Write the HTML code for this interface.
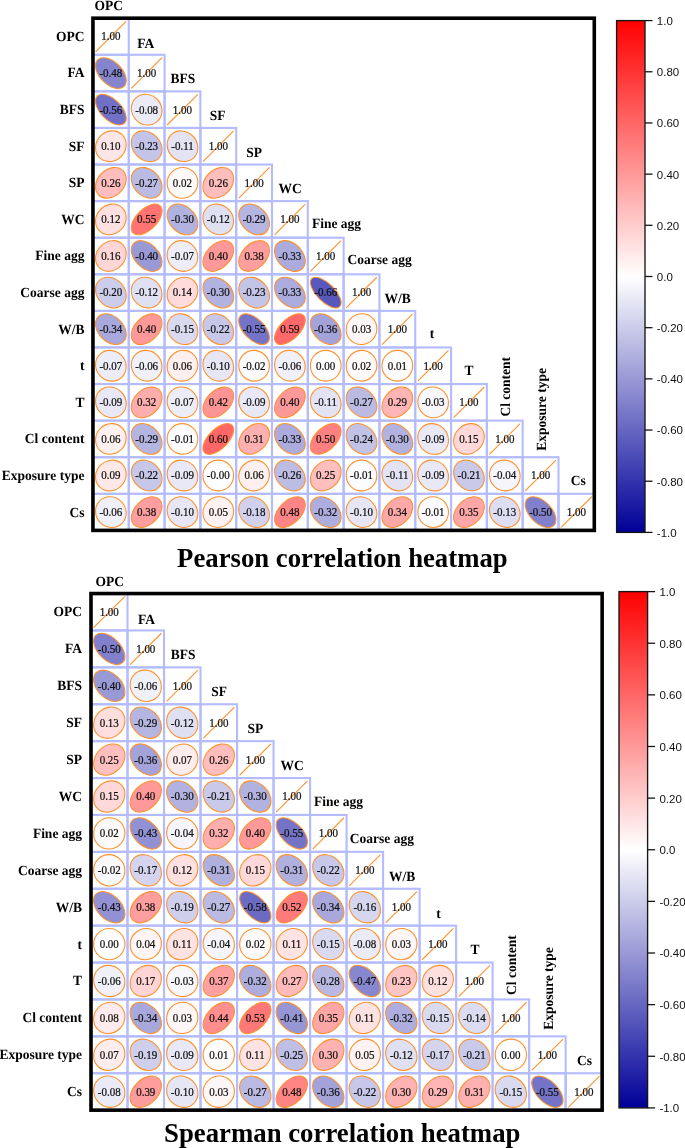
<!DOCTYPE html>
<html><head><meta charset="utf-8"><style>
html,body{margin:0;padding:0;background:#fff;}
svg{display:block;will-change:transform;}
.num{font-family:"Liberation Serif",serif;font-size:12.3px;fill:#111;stroke:#111;stroke-width:0.25px;text-anchor:middle;}
.lab{text-rendering:geometricPrecision;font-family:"Liberation Serif",serif;font-size:14px;font-weight:bold;fill:#000;}
.cbl{font-family:"Liberation Sans",sans-serif;font-size:11.5px;fill:#111;}
.title{font-family:"Liberation Serif",serif;font-size:27px;font-weight:bold;fill:#000;}
</style></head><body>
<svg width="685" height="1148" viewBox="0 0 685 1148">
<defs><linearGradient id="gp" x1="0" y1="0" x2="0" y2="1">
<stop offset="0" stop-color="rgb(255,0,0)"/>
<stop offset="0.5" stop-color="rgb(255,255,255)"/>
<stop offset="1" stop-color="rgb(0,0,153)"/>
</linearGradient><linearGradient id="gs" x1="0" y1="0" x2="0" y2="1">
<stop offset="0" stop-color="rgb(255,0,0)"/>
<stop offset="0.5" stop-color="rgb(255,255,255)"/>
<stop offset="1" stop-color="rgb(0,0,153)"/>
</linearGradient></defs>
<rect width="685" height="1148" fill="#fff"/>
<rect x="92.95" y="18.20" width="35.81" height="36.59" fill="none" stroke="#b4bcff" stroke-width="2.1"/>
<rect x="92.95" y="54.78" width="35.81" height="36.59" fill="none" stroke="#b4bcff" stroke-width="2.1"/>
<rect x="128.76" y="54.78" width="35.81" height="36.59" fill="none" stroke="#b4bcff" stroke-width="2.1"/>
<rect x="92.95" y="91.37" width="35.81" height="36.59" fill="none" stroke="#b4bcff" stroke-width="2.1"/>
<rect x="128.76" y="91.37" width="35.81" height="36.59" fill="none" stroke="#b4bcff" stroke-width="2.1"/>
<rect x="164.57" y="91.37" width="35.81" height="36.59" fill="none" stroke="#b4bcff" stroke-width="2.1"/>
<rect x="92.95" y="127.95" width="35.81" height="36.59" fill="none" stroke="#b4bcff" stroke-width="2.1"/>
<rect x="128.76" y="127.95" width="35.81" height="36.59" fill="none" stroke="#b4bcff" stroke-width="2.1"/>
<rect x="164.57" y="127.95" width="35.81" height="36.59" fill="none" stroke="#b4bcff" stroke-width="2.1"/>
<rect x="200.38" y="127.95" width="35.81" height="36.59" fill="none" stroke="#b4bcff" stroke-width="2.1"/>
<rect x="92.95" y="164.54" width="35.81" height="36.59" fill="none" stroke="#b4bcff" stroke-width="2.1"/>
<rect x="128.76" y="164.54" width="35.81" height="36.59" fill="none" stroke="#b4bcff" stroke-width="2.1"/>
<rect x="164.57" y="164.54" width="35.81" height="36.59" fill="none" stroke="#b4bcff" stroke-width="2.1"/>
<rect x="200.38" y="164.54" width="35.81" height="36.59" fill="none" stroke="#b4bcff" stroke-width="2.1"/>
<rect x="236.19" y="164.54" width="35.81" height="36.59" fill="none" stroke="#b4bcff" stroke-width="2.1"/>
<rect x="92.95" y="201.12" width="35.81" height="36.59" fill="none" stroke="#b4bcff" stroke-width="2.1"/>
<rect x="128.76" y="201.12" width="35.81" height="36.59" fill="none" stroke="#b4bcff" stroke-width="2.1"/>
<rect x="164.57" y="201.12" width="35.81" height="36.59" fill="none" stroke="#b4bcff" stroke-width="2.1"/>
<rect x="200.38" y="201.12" width="35.81" height="36.59" fill="none" stroke="#b4bcff" stroke-width="2.1"/>
<rect x="236.19" y="201.12" width="35.81" height="36.59" fill="none" stroke="#b4bcff" stroke-width="2.1"/>
<rect x="272.00" y="201.12" width="35.81" height="36.59" fill="none" stroke="#b4bcff" stroke-width="2.1"/>
<rect x="92.95" y="237.71" width="35.81" height="36.59" fill="none" stroke="#b4bcff" stroke-width="2.1"/>
<rect x="128.76" y="237.71" width="35.81" height="36.59" fill="none" stroke="#b4bcff" stroke-width="2.1"/>
<rect x="164.57" y="237.71" width="35.81" height="36.59" fill="none" stroke="#b4bcff" stroke-width="2.1"/>
<rect x="200.38" y="237.71" width="35.81" height="36.59" fill="none" stroke="#b4bcff" stroke-width="2.1"/>
<rect x="236.19" y="237.71" width="35.81" height="36.59" fill="none" stroke="#b4bcff" stroke-width="2.1"/>
<rect x="272.00" y="237.71" width="35.81" height="36.59" fill="none" stroke="#b4bcff" stroke-width="2.1"/>
<rect x="307.81" y="237.71" width="35.81" height="36.59" fill="none" stroke="#b4bcff" stroke-width="2.1"/>
<rect x="92.95" y="274.30" width="35.81" height="36.59" fill="none" stroke="#b4bcff" stroke-width="2.1"/>
<rect x="128.76" y="274.30" width="35.81" height="36.59" fill="none" stroke="#b4bcff" stroke-width="2.1"/>
<rect x="164.57" y="274.30" width="35.81" height="36.59" fill="none" stroke="#b4bcff" stroke-width="2.1"/>
<rect x="200.38" y="274.30" width="35.81" height="36.59" fill="none" stroke="#b4bcff" stroke-width="2.1"/>
<rect x="236.19" y="274.30" width="35.81" height="36.59" fill="none" stroke="#b4bcff" stroke-width="2.1"/>
<rect x="272.00" y="274.30" width="35.81" height="36.59" fill="none" stroke="#b4bcff" stroke-width="2.1"/>
<rect x="307.81" y="274.30" width="35.81" height="36.59" fill="none" stroke="#b4bcff" stroke-width="2.1"/>
<rect x="343.62" y="274.30" width="35.81" height="36.59" fill="none" stroke="#b4bcff" stroke-width="2.1"/>
<rect x="92.95" y="310.88" width="35.81" height="36.59" fill="none" stroke="#b4bcff" stroke-width="2.1"/>
<rect x="128.76" y="310.88" width="35.81" height="36.59" fill="none" stroke="#b4bcff" stroke-width="2.1"/>
<rect x="164.57" y="310.88" width="35.81" height="36.59" fill="none" stroke="#b4bcff" stroke-width="2.1"/>
<rect x="200.38" y="310.88" width="35.81" height="36.59" fill="none" stroke="#b4bcff" stroke-width="2.1"/>
<rect x="236.19" y="310.88" width="35.81" height="36.59" fill="none" stroke="#b4bcff" stroke-width="2.1"/>
<rect x="272.00" y="310.88" width="35.81" height="36.59" fill="none" stroke="#b4bcff" stroke-width="2.1"/>
<rect x="307.81" y="310.88" width="35.81" height="36.59" fill="none" stroke="#b4bcff" stroke-width="2.1"/>
<rect x="343.62" y="310.88" width="35.81" height="36.59" fill="none" stroke="#b4bcff" stroke-width="2.1"/>
<rect x="379.43" y="310.88" width="35.81" height="36.59" fill="none" stroke="#b4bcff" stroke-width="2.1"/>
<rect x="92.95" y="347.46" width="35.81" height="36.59" fill="none" stroke="#b4bcff" stroke-width="2.1"/>
<rect x="128.76" y="347.46" width="35.81" height="36.59" fill="none" stroke="#b4bcff" stroke-width="2.1"/>
<rect x="164.57" y="347.46" width="35.81" height="36.59" fill="none" stroke="#b4bcff" stroke-width="2.1"/>
<rect x="200.38" y="347.46" width="35.81" height="36.59" fill="none" stroke="#b4bcff" stroke-width="2.1"/>
<rect x="236.19" y="347.46" width="35.81" height="36.59" fill="none" stroke="#b4bcff" stroke-width="2.1"/>
<rect x="272.00" y="347.46" width="35.81" height="36.59" fill="none" stroke="#b4bcff" stroke-width="2.1"/>
<rect x="307.81" y="347.46" width="35.81" height="36.59" fill="none" stroke="#b4bcff" stroke-width="2.1"/>
<rect x="343.62" y="347.46" width="35.81" height="36.59" fill="none" stroke="#b4bcff" stroke-width="2.1"/>
<rect x="379.43" y="347.46" width="35.81" height="36.59" fill="none" stroke="#b4bcff" stroke-width="2.1"/>
<rect x="415.24" y="347.46" width="35.81" height="36.59" fill="none" stroke="#b4bcff" stroke-width="2.1"/>
<rect x="92.95" y="384.05" width="35.81" height="36.59" fill="none" stroke="#b4bcff" stroke-width="2.1"/>
<rect x="128.76" y="384.05" width="35.81" height="36.59" fill="none" stroke="#b4bcff" stroke-width="2.1"/>
<rect x="164.57" y="384.05" width="35.81" height="36.59" fill="none" stroke="#b4bcff" stroke-width="2.1"/>
<rect x="200.38" y="384.05" width="35.81" height="36.59" fill="none" stroke="#b4bcff" stroke-width="2.1"/>
<rect x="236.19" y="384.05" width="35.81" height="36.59" fill="none" stroke="#b4bcff" stroke-width="2.1"/>
<rect x="272.00" y="384.05" width="35.81" height="36.59" fill="none" stroke="#b4bcff" stroke-width="2.1"/>
<rect x="307.81" y="384.05" width="35.81" height="36.59" fill="none" stroke="#b4bcff" stroke-width="2.1"/>
<rect x="343.62" y="384.05" width="35.81" height="36.59" fill="none" stroke="#b4bcff" stroke-width="2.1"/>
<rect x="379.43" y="384.05" width="35.81" height="36.59" fill="none" stroke="#b4bcff" stroke-width="2.1"/>
<rect x="415.24" y="384.05" width="35.81" height="36.59" fill="none" stroke="#b4bcff" stroke-width="2.1"/>
<rect x="451.05" y="384.05" width="35.81" height="36.59" fill="none" stroke="#b4bcff" stroke-width="2.1"/>
<rect x="92.95" y="420.63" width="35.81" height="36.59" fill="none" stroke="#b4bcff" stroke-width="2.1"/>
<rect x="128.76" y="420.63" width="35.81" height="36.59" fill="none" stroke="#b4bcff" stroke-width="2.1"/>
<rect x="164.57" y="420.63" width="35.81" height="36.59" fill="none" stroke="#b4bcff" stroke-width="2.1"/>
<rect x="200.38" y="420.63" width="35.81" height="36.59" fill="none" stroke="#b4bcff" stroke-width="2.1"/>
<rect x="236.19" y="420.63" width="35.81" height="36.59" fill="none" stroke="#b4bcff" stroke-width="2.1"/>
<rect x="272.00" y="420.63" width="35.81" height="36.59" fill="none" stroke="#b4bcff" stroke-width="2.1"/>
<rect x="307.81" y="420.63" width="35.81" height="36.59" fill="none" stroke="#b4bcff" stroke-width="2.1"/>
<rect x="343.62" y="420.63" width="35.81" height="36.59" fill="none" stroke="#b4bcff" stroke-width="2.1"/>
<rect x="379.43" y="420.63" width="35.81" height="36.59" fill="none" stroke="#b4bcff" stroke-width="2.1"/>
<rect x="415.24" y="420.63" width="35.81" height="36.59" fill="none" stroke="#b4bcff" stroke-width="2.1"/>
<rect x="451.05" y="420.63" width="35.81" height="36.59" fill="none" stroke="#b4bcff" stroke-width="2.1"/>
<rect x="486.86" y="420.63" width="35.81" height="36.59" fill="none" stroke="#b4bcff" stroke-width="2.1"/>
<rect x="92.95" y="457.22" width="35.81" height="36.59" fill="none" stroke="#b4bcff" stroke-width="2.1"/>
<rect x="128.76" y="457.22" width="35.81" height="36.59" fill="none" stroke="#b4bcff" stroke-width="2.1"/>
<rect x="164.57" y="457.22" width="35.81" height="36.59" fill="none" stroke="#b4bcff" stroke-width="2.1"/>
<rect x="200.38" y="457.22" width="35.81" height="36.59" fill="none" stroke="#b4bcff" stroke-width="2.1"/>
<rect x="236.19" y="457.22" width="35.81" height="36.59" fill="none" stroke="#b4bcff" stroke-width="2.1"/>
<rect x="272.00" y="457.22" width="35.81" height="36.59" fill="none" stroke="#b4bcff" stroke-width="2.1"/>
<rect x="307.81" y="457.22" width="35.81" height="36.59" fill="none" stroke="#b4bcff" stroke-width="2.1"/>
<rect x="343.62" y="457.22" width="35.81" height="36.59" fill="none" stroke="#b4bcff" stroke-width="2.1"/>
<rect x="379.43" y="457.22" width="35.81" height="36.59" fill="none" stroke="#b4bcff" stroke-width="2.1"/>
<rect x="415.24" y="457.22" width="35.81" height="36.59" fill="none" stroke="#b4bcff" stroke-width="2.1"/>
<rect x="451.05" y="457.22" width="35.81" height="36.59" fill="none" stroke="#b4bcff" stroke-width="2.1"/>
<rect x="486.86" y="457.22" width="35.81" height="36.59" fill="none" stroke="#b4bcff" stroke-width="2.1"/>
<rect x="522.67" y="457.22" width="35.81" height="36.59" fill="none" stroke="#b4bcff" stroke-width="2.1"/>
<rect x="92.95" y="493.81" width="35.81" height="36.59" fill="none" stroke="#b4bcff" stroke-width="2.1"/>
<rect x="128.76" y="493.81" width="35.81" height="36.59" fill="none" stroke="#b4bcff" stroke-width="2.1"/>
<rect x="164.57" y="493.81" width="35.81" height="36.59" fill="none" stroke="#b4bcff" stroke-width="2.1"/>
<rect x="200.38" y="493.81" width="35.81" height="36.59" fill="none" stroke="#b4bcff" stroke-width="2.1"/>
<rect x="236.19" y="493.81" width="35.81" height="36.59" fill="none" stroke="#b4bcff" stroke-width="2.1"/>
<rect x="272.00" y="493.81" width="35.81" height="36.59" fill="none" stroke="#b4bcff" stroke-width="2.1"/>
<rect x="307.81" y="493.81" width="35.81" height="36.59" fill="none" stroke="#b4bcff" stroke-width="2.1"/>
<rect x="343.62" y="493.81" width="35.81" height="36.59" fill="none" stroke="#b4bcff" stroke-width="2.1"/>
<rect x="379.43" y="493.81" width="35.81" height="36.59" fill="none" stroke="#b4bcff" stroke-width="2.1"/>
<rect x="415.24" y="493.81" width="35.81" height="36.59" fill="none" stroke="#b4bcff" stroke-width="2.1"/>
<rect x="451.05" y="493.81" width="35.81" height="36.59" fill="none" stroke="#b4bcff" stroke-width="2.1"/>
<rect x="486.86" y="493.81" width="35.81" height="36.59" fill="none" stroke="#b4bcff" stroke-width="2.1"/>
<rect x="522.67" y="493.81" width="35.81" height="36.59" fill="none" stroke="#b4bcff" stroke-width="2.1"/>
<rect x="558.48" y="493.81" width="35.81" height="36.59" fill="none" stroke="#b4bcff" stroke-width="2.1"/>
<line x1="95.51" y1="51.84" x2="126.20" y2="21.14" stroke="#fd9230" stroke-width="1.1"/>
<ellipse cx="110.86" cy="73.08" rx="18.67" ry="11.07" transform="rotate(45 110.86 73.08)" fill="rgb(133,133,206)" stroke="#fd9230" stroke-width="1.1"/>
<line x1="131.32" y1="88.43" x2="162.02" y2="57.73" stroke="#fd9230" stroke-width="1.1"/>
<ellipse cx="110.86" cy="109.66" rx="19.17" ry="10.18" transform="rotate(45 110.86 109.66)" fill="rgb(112,112,198)" stroke="#fd9230" stroke-width="1.1"/>
<ellipse cx="146.67" cy="109.66" rx="15.95" ry="14.72" transform="rotate(45 146.67 109.66)" fill="rgb(235,235,247)" stroke="#fd9230" stroke-width="1.1"/>
<line x1="167.13" y1="125.01" x2="197.83" y2="94.31" stroke="#fd9230" stroke-width="1.1"/>
<ellipse cx="110.86" cy="146.25" rx="16.10" ry="14.56" transform="rotate(-45 110.86 146.25)" fill="rgb(255,230,230)" stroke="#fd9230" stroke-width="1.1"/>
<ellipse cx="146.67" cy="146.25" rx="17.02" ry="13.47" transform="rotate(45 146.67 146.25)" fill="rgb(196,196,232)" stroke="#fd9230" stroke-width="1.1"/>
<ellipse cx="182.48" cy="146.25" rx="16.17" ry="14.48" transform="rotate(45 182.48 146.25)" fill="rgb(227,227,244)" stroke="#fd9230" stroke-width="1.1"/>
<line x1="202.94" y1="161.60" x2="233.64" y2="130.90" stroke="#fd9230" stroke-width="1.1"/>
<ellipse cx="110.86" cy="182.83" rx="17.23" ry="13.20" transform="rotate(-45 110.86 182.83)" fill="rgb(255,189,189)" stroke="#fd9230" stroke-width="1.1"/>
<ellipse cx="146.67" cy="182.83" rx="17.30" ry="13.12" transform="rotate(45 146.67 182.83)" fill="rgb(186,186,227)" stroke="#fd9230" stroke-width="1.1"/>
<ellipse cx="182.48" cy="182.83" rx="15.50" ry="15.20" transform="rotate(-45 182.48 182.83)" fill="rgb(255,250,250)" stroke="#fd9230" stroke-width="1.1"/>
<ellipse cx="218.29" cy="182.83" rx="17.23" ry="13.20" transform="rotate(-45 218.29 182.83)" fill="rgb(255,189,189)" stroke="#fd9230" stroke-width="1.1"/>
<line x1="238.75" y1="198.18" x2="269.45" y2="167.48" stroke="#fd9230" stroke-width="1.1"/>
<ellipse cx="110.86" cy="219.42" rx="16.24" ry="14.40" transform="rotate(-45 110.86 219.42)" fill="rgb(255,224,224)" stroke="#fd9230" stroke-width="1.1"/>
<ellipse cx="146.67" cy="219.42" rx="19.11" ry="10.30" transform="rotate(-45 146.67 219.42)" fill="rgb(255,115,115)" stroke="#fd9230" stroke-width="1.1"/>
<ellipse cx="182.48" cy="219.42" rx="17.50" ry="12.84" transform="rotate(45 182.48 219.42)" fill="rgb(178,178,224)" stroke="#fd9230" stroke-width="1.1"/>
<ellipse cx="218.29" cy="219.42" rx="16.24" ry="14.40" transform="rotate(45 218.29 219.42)" fill="rgb(224,224,243)" stroke="#fd9230" stroke-width="1.1"/>
<ellipse cx="254.10" cy="219.42" rx="17.43" ry="12.93" transform="rotate(45 254.10 219.42)" fill="rgb(181,181,225)" stroke="#fd9230" stroke-width="1.1"/>
<line x1="274.56" y1="234.77" x2="305.26" y2="204.07" stroke="#fd9230" stroke-width="1.1"/>
<ellipse cx="110.86" cy="256.00" rx="16.53" ry="14.07" transform="rotate(-45 110.86 256.00)" fill="rgb(255,214,214)" stroke="#fd9230" stroke-width="1.1"/>
<ellipse cx="146.67" cy="256.00" rx="18.16" ry="11.89" transform="rotate(45 146.67 256.00)" fill="rgb(153,153,214)" stroke="#fd9230" stroke-width="1.1"/>
<ellipse cx="182.48" cy="256.00" rx="15.88" ry="14.80" transform="rotate(45 182.48 256.00)" fill="rgb(237,237,248)" stroke="#fd9230" stroke-width="1.1"/>
<ellipse cx="218.29" cy="256.00" rx="18.16" ry="11.89" transform="rotate(-45 218.29 256.00)" fill="rgb(255,153,153)" stroke="#fd9230" stroke-width="1.1"/>
<ellipse cx="254.10" cy="256.00" rx="18.03" ry="12.09" transform="rotate(-45 254.10 256.00)" fill="rgb(255,158,158)" stroke="#fd9230" stroke-width="1.1"/>
<ellipse cx="289.91" cy="256.00" rx="17.70" ry="12.56" transform="rotate(45 289.91 256.00)" fill="rgb(171,171,221)" stroke="#fd9230" stroke-width="1.1"/>
<line x1="310.37" y1="271.35" x2="341.07" y2="240.65" stroke="#fd9230" stroke-width="1.1"/>
<ellipse cx="110.86" cy="292.59" rx="16.82" ry="13.73" transform="rotate(45 110.86 292.59)" fill="rgb(204,204,235)" stroke="#fd9230" stroke-width="1.1"/>
<ellipse cx="146.67" cy="292.59" rx="16.24" ry="14.40" transform="rotate(45 146.67 292.59)" fill="rgb(224,224,243)" stroke="#fd9230" stroke-width="1.1"/>
<ellipse cx="182.48" cy="292.59" rx="16.39" ry="14.24" transform="rotate(-45 182.48 292.59)" fill="rgb(255,219,219)" stroke="#fd9230" stroke-width="1.1"/>
<ellipse cx="218.29" cy="292.59" rx="17.50" ry="12.84" transform="rotate(45 218.29 292.59)" fill="rgb(178,178,224)" stroke="#fd9230" stroke-width="1.1"/>
<ellipse cx="254.10" cy="292.59" rx="17.02" ry="13.47" transform="rotate(45 254.10 292.59)" fill="rgb(196,196,232)" stroke="#fd9230" stroke-width="1.1"/>
<ellipse cx="289.91" cy="292.59" rx="17.70" ry="12.56" transform="rotate(45 289.91 292.59)" fill="rgb(171,171,221)" stroke="#fd9230" stroke-width="1.1"/>
<ellipse cx="325.72" cy="292.59" rx="19.78" ry="8.95" transform="rotate(45 325.72 292.59)" fill="rgb(87,87,188)" stroke="#fd9230" stroke-width="1.1"/>
<line x1="346.18" y1="307.94" x2="376.88" y2="277.24" stroke="#fd9230" stroke-width="1.1"/>
<ellipse cx="110.86" cy="329.17" rx="17.77" ry="12.47" transform="rotate(45 110.86 329.17)" fill="rgb(168,168,220)" stroke="#fd9230" stroke-width="1.1"/>
<ellipse cx="146.67" cy="329.17" rx="18.16" ry="11.89" transform="rotate(-45 146.67 329.17)" fill="rgb(255,153,153)" stroke="#fd9230" stroke-width="1.1"/>
<ellipse cx="182.48" cy="329.17" rx="16.46" ry="14.15" transform="rotate(45 182.48 329.17)" fill="rgb(217,217,240)" stroke="#fd9230" stroke-width="1.1"/>
<ellipse cx="218.29" cy="329.17" rx="16.95" ry="13.56" transform="rotate(45 218.29 329.17)" fill="rgb(199,199,233)" stroke="#fd9230" stroke-width="1.1"/>
<ellipse cx="254.10" cy="329.17" rx="19.11" ry="10.30" transform="rotate(45 254.10 329.17)" fill="rgb(115,115,199)" stroke="#fd9230" stroke-width="1.1"/>
<ellipse cx="289.91" cy="329.17" rx="19.36" ry="9.83" transform="rotate(-45 289.91 329.17)" fill="rgb(255,105,105)" stroke="#fd9230" stroke-width="1.1"/>
<ellipse cx="325.72" cy="329.17" rx="17.90" ry="12.28" transform="rotate(45 325.72 329.17)" fill="rgb(163,163,218)" stroke="#fd9230" stroke-width="1.1"/>
<ellipse cx="361.53" cy="329.17" rx="15.58" ry="15.12" transform="rotate(-45 361.53 329.17)" fill="rgb(255,247,247)" stroke="#fd9230" stroke-width="1.1"/>
<line x1="381.98" y1="344.52" x2="412.69" y2="313.82" stroke="#fd9230" stroke-width="1.1"/>
<ellipse cx="110.86" cy="365.76" rx="15.88" ry="14.80" transform="rotate(45 110.86 365.76)" fill="rgb(237,237,248)" stroke="#fd9230" stroke-width="1.1"/>
<ellipse cx="146.67" cy="365.76" rx="15.80" ry="14.88" transform="rotate(45 146.67 365.76)" fill="rgb(240,240,249)" stroke="#fd9230" stroke-width="1.1"/>
<ellipse cx="182.48" cy="365.76" rx="15.80" ry="14.88" transform="rotate(-45 182.48 365.76)" fill="rgb(255,240,240)" stroke="#fd9230" stroke-width="1.1"/>
<ellipse cx="218.29" cy="365.76" rx="16.10" ry="14.56" transform="rotate(45 218.29 365.76)" fill="rgb(230,230,245)" stroke="#fd9230" stroke-width="1.1"/>
<ellipse cx="254.10" cy="365.76" rx="15.50" ry="15.20" transform="rotate(45 254.10 365.76)" fill="rgb(250,250,253)" stroke="#fd9230" stroke-width="1.1"/>
<ellipse cx="289.91" cy="365.76" rx="15.80" ry="14.88" transform="rotate(45 289.91 365.76)" fill="rgb(240,240,249)" stroke="#fd9230" stroke-width="1.1"/>
<ellipse cx="325.72" cy="365.76" rx="15.35" ry="15.35" transform="rotate(-45 325.72 365.76)" fill="rgb(255,255,255)" stroke="#fd9230" stroke-width="1.1"/>
<ellipse cx="361.53" cy="365.76" rx="15.50" ry="15.20" transform="rotate(-45 361.53 365.76)" fill="rgb(255,250,250)" stroke="#fd9230" stroke-width="1.1"/>
<ellipse cx="397.33" cy="365.76" rx="15.43" ry="15.27" transform="rotate(-45 397.33 365.76)" fill="rgb(255,252,252)" stroke="#fd9230" stroke-width="1.1"/>
<line x1="417.80" y1="381.11" x2="448.50" y2="350.41" stroke="#fd9230" stroke-width="1.1"/>
<ellipse cx="110.86" cy="402.34" rx="16.03" ry="14.64" transform="rotate(45 110.86 402.34)" fill="rgb(232,232,246)" stroke="#fd9230" stroke-width="1.1"/>
<ellipse cx="146.67" cy="402.34" rx="17.64" ry="12.66" transform="rotate(-45 146.67 402.34)" fill="rgb(255,173,173)" stroke="#fd9230" stroke-width="1.1"/>
<ellipse cx="182.48" cy="402.34" rx="15.88" ry="14.80" transform="rotate(45 182.48 402.34)" fill="rgb(237,237,248)" stroke="#fd9230" stroke-width="1.1"/>
<ellipse cx="218.29" cy="402.34" rx="18.29" ry="11.69" transform="rotate(-45 218.29 402.34)" fill="rgb(255,148,148)" stroke="#fd9230" stroke-width="1.1"/>
<ellipse cx="254.10" cy="402.34" rx="16.03" ry="14.64" transform="rotate(45 254.10 402.34)" fill="rgb(232,232,246)" stroke="#fd9230" stroke-width="1.1"/>
<ellipse cx="289.91" cy="402.34" rx="18.16" ry="11.89" transform="rotate(-45 289.91 402.34)" fill="rgb(255,153,153)" stroke="#fd9230" stroke-width="1.1"/>
<ellipse cx="325.72" cy="402.34" rx="16.17" ry="14.48" transform="rotate(45 325.72 402.34)" fill="rgb(227,227,244)" stroke="#fd9230" stroke-width="1.1"/>
<ellipse cx="361.53" cy="402.34" rx="17.30" ry="13.12" transform="rotate(45 361.53 402.34)" fill="rgb(186,186,227)" stroke="#fd9230" stroke-width="1.1"/>
<ellipse cx="397.33" cy="402.34" rx="17.43" ry="12.93" transform="rotate(-45 397.33 402.34)" fill="rgb(255,181,181)" stroke="#fd9230" stroke-width="1.1"/>
<ellipse cx="433.15" cy="402.34" rx="15.58" ry="15.12" transform="rotate(45 433.15 402.34)" fill="rgb(247,247,252)" stroke="#fd9230" stroke-width="1.1"/>
<line x1="453.60" y1="417.69" x2="484.31" y2="386.99" stroke="#fd9230" stroke-width="1.1"/>
<ellipse cx="110.86" cy="438.93" rx="15.80" ry="14.88" transform="rotate(-45 110.86 438.93)" fill="rgb(255,240,240)" stroke="#fd9230" stroke-width="1.1"/>
<ellipse cx="146.67" cy="438.93" rx="17.43" ry="12.93" transform="rotate(45 146.67 438.93)" fill="rgb(181,181,225)" stroke="#fd9230" stroke-width="1.1"/>
<ellipse cx="182.48" cy="438.93" rx="15.43" ry="15.27" transform="rotate(45 182.48 438.93)" fill="rgb(252,252,254)" stroke="#fd9230" stroke-width="1.1"/>
<ellipse cx="218.29" cy="438.93" rx="19.42" ry="9.71" transform="rotate(-45 218.29 438.93)" fill="rgb(255,102,102)" stroke="#fd9230" stroke-width="1.1"/>
<ellipse cx="254.10" cy="438.93" rx="17.57" ry="12.75" transform="rotate(-45 254.10 438.93)" fill="rgb(255,176,176)" stroke="#fd9230" stroke-width="1.1"/>
<ellipse cx="289.91" cy="438.93" rx="17.70" ry="12.56" transform="rotate(45 289.91 438.93)" fill="rgb(171,171,221)" stroke="#fd9230" stroke-width="1.1"/>
<ellipse cx="325.72" cy="438.93" rx="18.80" ry="10.85" transform="rotate(-45 325.72 438.93)" fill="rgb(255,128,128)" stroke="#fd9230" stroke-width="1.1"/>
<ellipse cx="361.53" cy="438.93" rx="17.09" ry="13.38" transform="rotate(45 361.53 438.93)" fill="rgb(194,194,231)" stroke="#fd9230" stroke-width="1.1"/>
<ellipse cx="397.33" cy="438.93" rx="17.50" ry="12.84" transform="rotate(45 397.33 438.93)" fill="rgb(178,178,224)" stroke="#fd9230" stroke-width="1.1"/>
<ellipse cx="433.15" cy="438.93" rx="16.03" ry="14.64" transform="rotate(45 433.15 438.93)" fill="rgb(232,232,246)" stroke="#fd9230" stroke-width="1.1"/>
<ellipse cx="468.95" cy="438.93" rx="16.46" ry="14.15" transform="rotate(-45 468.95 438.93)" fill="rgb(255,217,217)" stroke="#fd9230" stroke-width="1.1"/>
<line x1="489.42" y1="454.28" x2="520.12" y2="423.58" stroke="#fd9230" stroke-width="1.1"/>
<ellipse cx="110.86" cy="475.51" rx="16.03" ry="14.64" transform="rotate(-45 110.86 475.51)" fill="rgb(255,232,232)" stroke="#fd9230" stroke-width="1.1"/>
<ellipse cx="146.67" cy="475.51" rx="16.95" ry="13.56" transform="rotate(45 146.67 475.51)" fill="rgb(199,199,233)" stroke="#fd9230" stroke-width="1.1"/>
<ellipse cx="182.48" cy="475.51" rx="16.03" ry="14.64" transform="rotate(45 182.48 475.51)" fill="rgb(232,232,246)" stroke="#fd9230" stroke-width="1.1"/>
<ellipse cx="218.29" cy="475.51" rx="15.35" ry="15.35" transform="rotate(-45 218.29 475.51)" fill="rgb(255,255,255)" stroke="#fd9230" stroke-width="1.1"/>
<ellipse cx="254.10" cy="475.51" rx="15.80" ry="14.88" transform="rotate(-45 254.10 475.51)" fill="rgb(255,240,240)" stroke="#fd9230" stroke-width="1.1"/>
<ellipse cx="289.91" cy="475.51" rx="17.23" ry="13.20" transform="rotate(45 289.91 475.51)" fill="rgb(189,189,228)" stroke="#fd9230" stroke-width="1.1"/>
<ellipse cx="325.72" cy="475.51" rx="17.16" ry="13.29" transform="rotate(-45 325.72 475.51)" fill="rgb(255,191,191)" stroke="#fd9230" stroke-width="1.1"/>
<ellipse cx="361.53" cy="475.51" rx="15.43" ry="15.27" transform="rotate(45 361.53 475.51)" fill="rgb(252,252,254)" stroke="#fd9230" stroke-width="1.1"/>
<ellipse cx="397.33" cy="475.51" rx="16.17" ry="14.48" transform="rotate(45 397.33 475.51)" fill="rgb(227,227,244)" stroke="#fd9230" stroke-width="1.1"/>
<ellipse cx="433.15" cy="475.51" rx="16.03" ry="14.64" transform="rotate(45 433.15 475.51)" fill="rgb(232,232,246)" stroke="#fd9230" stroke-width="1.1"/>
<ellipse cx="468.95" cy="475.51" rx="16.89" ry="13.64" transform="rotate(45 468.95 475.51)" fill="rgb(201,201,234)" stroke="#fd9230" stroke-width="1.1"/>
<ellipse cx="504.77" cy="475.51" rx="15.65" ry="15.04" transform="rotate(45 504.77 475.51)" fill="rgb(245,245,251)" stroke="#fd9230" stroke-width="1.1"/>
<line x1="525.23" y1="490.86" x2="555.93" y2="460.16" stroke="#fd9230" stroke-width="1.1"/>
<ellipse cx="110.86" cy="512.10" rx="15.80" ry="14.88" transform="rotate(45 110.86 512.10)" fill="rgb(240,240,249)" stroke="#fd9230" stroke-width="1.1"/>
<ellipse cx="146.67" cy="512.10" rx="18.03" ry="12.09" transform="rotate(-45 146.67 512.10)" fill="rgb(255,158,158)" stroke="#fd9230" stroke-width="1.1"/>
<ellipse cx="182.48" cy="512.10" rx="16.10" ry="14.56" transform="rotate(45 182.48 512.10)" fill="rgb(230,230,245)" stroke="#fd9230" stroke-width="1.1"/>
<ellipse cx="218.29" cy="512.10" rx="15.73" ry="14.96" transform="rotate(-45 218.29 512.10)" fill="rgb(255,242,242)" stroke="#fd9230" stroke-width="1.1"/>
<ellipse cx="254.10" cy="512.10" rx="16.67" ry="13.90" transform="rotate(45 254.10 512.10)" fill="rgb(209,209,237)" stroke="#fd9230" stroke-width="1.1"/>
<ellipse cx="289.91" cy="512.10" rx="18.67" ry="11.07" transform="rotate(-45 289.91 512.10)" fill="rgb(255,133,133)" stroke="#fd9230" stroke-width="1.1"/>
<ellipse cx="325.72" cy="512.10" rx="17.64" ry="12.66" transform="rotate(45 325.72 512.10)" fill="rgb(173,173,222)" stroke="#fd9230" stroke-width="1.1"/>
<ellipse cx="361.53" cy="512.10" rx="16.10" ry="14.56" transform="rotate(45 361.53 512.10)" fill="rgb(230,230,245)" stroke="#fd9230" stroke-width="1.1"/>
<ellipse cx="397.33" cy="512.10" rx="17.77" ry="12.47" transform="rotate(-45 397.33 512.10)" fill="rgb(255,168,168)" stroke="#fd9230" stroke-width="1.1"/>
<ellipse cx="433.15" cy="512.10" rx="15.43" ry="15.27" transform="rotate(45 433.15 512.10)" fill="rgb(252,252,254)" stroke="#fd9230" stroke-width="1.1"/>
<ellipse cx="468.95" cy="512.10" rx="17.84" ry="12.38" transform="rotate(-45 468.95 512.10)" fill="rgb(255,166,166)" stroke="#fd9230" stroke-width="1.1"/>
<ellipse cx="504.77" cy="512.10" rx="16.32" ry="14.32" transform="rotate(45 504.77 512.10)" fill="rgb(222,222,242)" stroke="#fd9230" stroke-width="1.1"/>
<ellipse cx="540.58" cy="512.10" rx="18.80" ry="10.85" transform="rotate(45 540.58 512.10)" fill="rgb(128,128,204)" stroke="#fd9230" stroke-width="1.1"/>
<line x1="561.04" y1="527.45" x2="591.74" y2="496.75" stroke="#fd9230" stroke-width="1.1"/>
<text transform="translate(110.86 40.39) scale(0.893 1)" class="num">1.00</text>
<text transform="translate(110.86 76.98) scale(0.893 1)" class="num">-0.48</text>
<text transform="translate(146.67 76.98) scale(0.893 1)" class="num">1.00</text>
<text transform="translate(110.86 113.56) scale(0.893 1)" class="num">-0.56</text>
<text transform="translate(146.67 113.56) scale(0.893 1)" class="num">-0.08</text>
<text transform="translate(182.48 113.56) scale(0.893 1)" class="num">1.00</text>
<text transform="translate(110.86 150.15) scale(0.893 1)" class="num">0.10</text>
<text transform="translate(146.67 150.15) scale(0.893 1)" class="num">-0.23</text>
<text transform="translate(182.48 150.15) scale(0.893 1)" class="num">-0.11</text>
<text transform="translate(218.29 150.15) scale(0.893 1)" class="num">1.00</text>
<text transform="translate(110.86 186.73) scale(0.893 1)" class="num">0.26</text>
<text transform="translate(146.67 186.73) scale(0.893 1)" class="num">-0.27</text>
<text transform="translate(182.48 186.73) scale(0.893 1)" class="num">0.02</text>
<text transform="translate(218.29 186.73) scale(0.893 1)" class="num">0.26</text>
<text transform="translate(254.10 186.73) scale(0.893 1)" class="num">1.00</text>
<text transform="translate(110.86 223.32) scale(0.893 1)" class="num">0.12</text>
<text transform="translate(146.67 223.32) scale(0.893 1)" class="num">0.55</text>
<text transform="translate(182.48 223.32) scale(0.893 1)" class="num">-0.30</text>
<text transform="translate(218.29 223.32) scale(0.893 1)" class="num">-0.12</text>
<text transform="translate(254.10 223.32) scale(0.893 1)" class="num">-0.29</text>
<text transform="translate(289.91 223.32) scale(0.893 1)" class="num">1.00</text>
<text transform="translate(110.86 259.90) scale(0.893 1)" class="num">0.16</text>
<text transform="translate(146.67 259.90) scale(0.893 1)" class="num">-0.40</text>
<text transform="translate(182.48 259.90) scale(0.893 1)" class="num">-0.07</text>
<text transform="translate(218.29 259.90) scale(0.893 1)" class="num">0.40</text>
<text transform="translate(254.10 259.90) scale(0.893 1)" class="num">0.38</text>
<text transform="translate(289.91 259.90) scale(0.893 1)" class="num">-0.33</text>
<text transform="translate(325.72 259.90) scale(0.893 1)" class="num">1.00</text>
<text transform="translate(110.86 296.49) scale(0.893 1)" class="num">-0.20</text>
<text transform="translate(146.67 296.49) scale(0.893 1)" class="num">-0.12</text>
<text transform="translate(182.48 296.49) scale(0.893 1)" class="num">0.14</text>
<text transform="translate(218.29 296.49) scale(0.893 1)" class="num">-0.30</text>
<text transform="translate(254.10 296.49) scale(0.893 1)" class="num">-0.23</text>
<text transform="translate(289.91 296.49) scale(0.893 1)" class="num">-0.33</text>
<text transform="translate(325.72 296.49) scale(0.893 1)" class="num">-0.66</text>
<text transform="translate(361.53 296.49) scale(0.893 1)" class="num">1.00</text>
<text transform="translate(110.86 333.07) scale(0.893 1)" class="num">-0.34</text>
<text transform="translate(146.67 333.07) scale(0.893 1)" class="num">0.40</text>
<text transform="translate(182.48 333.07) scale(0.893 1)" class="num">-0.15</text>
<text transform="translate(218.29 333.07) scale(0.893 1)" class="num">-0.22</text>
<text transform="translate(254.10 333.07) scale(0.893 1)" class="num">-0.55</text>
<text transform="translate(289.91 333.07) scale(0.893 1)" class="num">0.59</text>
<text transform="translate(325.72 333.07) scale(0.893 1)" class="num">-0.36</text>
<text transform="translate(361.53 333.07) scale(0.893 1)" class="num">0.03</text>
<text transform="translate(397.33 333.07) scale(0.893 1)" class="num">1.00</text>
<text transform="translate(110.86 369.66) scale(0.893 1)" class="num">-0.07</text>
<text transform="translate(146.67 369.66) scale(0.893 1)" class="num">-0.06</text>
<text transform="translate(182.48 369.66) scale(0.893 1)" class="num">0.06</text>
<text transform="translate(218.29 369.66) scale(0.893 1)" class="num">-0.10</text>
<text transform="translate(254.10 369.66) scale(0.893 1)" class="num">-0.02</text>
<text transform="translate(289.91 369.66) scale(0.893 1)" class="num">-0.06</text>
<text transform="translate(325.72 369.66) scale(0.893 1)" class="num">0.00</text>
<text transform="translate(361.53 369.66) scale(0.893 1)" class="num">0.02</text>
<text transform="translate(397.33 369.66) scale(0.893 1)" class="num">0.01</text>
<text transform="translate(433.15 369.66) scale(0.893 1)" class="num">1.00</text>
<text transform="translate(110.86 406.24) scale(0.893 1)" class="num">-0.09</text>
<text transform="translate(146.67 406.24) scale(0.893 1)" class="num">0.32</text>
<text transform="translate(182.48 406.24) scale(0.893 1)" class="num">-0.07</text>
<text transform="translate(218.29 406.24) scale(0.893 1)" class="num">0.42</text>
<text transform="translate(254.10 406.24) scale(0.893 1)" class="num">-0.09</text>
<text transform="translate(289.91 406.24) scale(0.893 1)" class="num">0.40</text>
<text transform="translate(325.72 406.24) scale(0.893 1)" class="num">-0.11</text>
<text transform="translate(361.53 406.24) scale(0.893 1)" class="num">-0.27</text>
<text transform="translate(397.33 406.24) scale(0.893 1)" class="num">0.29</text>
<text transform="translate(433.15 406.24) scale(0.893 1)" class="num">-0.03</text>
<text transform="translate(468.95 406.24) scale(0.893 1)" class="num">1.00</text>
<text transform="translate(110.86 442.83) scale(0.893 1)" class="num">0.06</text>
<text transform="translate(146.67 442.83) scale(0.893 1)" class="num">-0.29</text>
<text transform="translate(182.48 442.83) scale(0.893 1)" class="num">-0.01</text>
<text transform="translate(218.29 442.83) scale(0.893 1)" class="num">0.60</text>
<text transform="translate(254.10 442.83) scale(0.893 1)" class="num">0.31</text>
<text transform="translate(289.91 442.83) scale(0.893 1)" class="num">-0.33</text>
<text transform="translate(325.72 442.83) scale(0.893 1)" class="num">0.50</text>
<text transform="translate(361.53 442.83) scale(0.893 1)" class="num">-0.24</text>
<text transform="translate(397.33 442.83) scale(0.893 1)" class="num">-0.30</text>
<text transform="translate(433.15 442.83) scale(0.893 1)" class="num">-0.09</text>
<text transform="translate(468.95 442.83) scale(0.893 1)" class="num">0.15</text>
<text transform="translate(504.77 442.83) scale(0.893 1)" class="num">1.00</text>
<text transform="translate(110.86 479.41) scale(0.893 1)" class="num">0.09</text>
<text transform="translate(146.67 479.41) scale(0.893 1)" class="num">-0.22</text>
<text transform="translate(182.48 479.41) scale(0.893 1)" class="num">-0.09</text>
<text transform="translate(218.29 479.41) scale(0.893 1)" class="num">-0.00</text>
<text transform="translate(254.10 479.41) scale(0.893 1)" class="num">0.06</text>
<text transform="translate(289.91 479.41) scale(0.893 1)" class="num">-0.26</text>
<text transform="translate(325.72 479.41) scale(0.893 1)" class="num">0.25</text>
<text transform="translate(361.53 479.41) scale(0.893 1)" class="num">-0.01</text>
<text transform="translate(397.33 479.41) scale(0.893 1)" class="num">-0.11</text>
<text transform="translate(433.15 479.41) scale(0.893 1)" class="num">-0.09</text>
<text transform="translate(468.95 479.41) scale(0.893 1)" class="num">-0.21</text>
<text transform="translate(504.77 479.41) scale(0.893 1)" class="num">-0.04</text>
<text transform="translate(540.58 479.41) scale(0.893 1)" class="num">1.00</text>
<text transform="translate(110.86 516.00) scale(0.893 1)" class="num">-0.06</text>
<text transform="translate(146.67 516.00) scale(0.893 1)" class="num">0.38</text>
<text transform="translate(182.48 516.00) scale(0.893 1)" class="num">-0.10</text>
<text transform="translate(218.29 516.00) scale(0.893 1)" class="num">0.05</text>
<text transform="translate(254.10 516.00) scale(0.893 1)" class="num">-0.18</text>
<text transform="translate(289.91 516.00) scale(0.893 1)" class="num">0.48</text>
<text transform="translate(325.72 516.00) scale(0.893 1)" class="num">-0.32</text>
<text transform="translate(361.53 516.00) scale(0.893 1)" class="num">-0.10</text>
<text transform="translate(397.33 516.00) scale(0.893 1)" class="num">0.34</text>
<text transform="translate(433.15 516.00) scale(0.893 1)" class="num">-0.01</text>
<text transform="translate(468.95 516.00) scale(0.893 1)" class="num">0.35</text>
<text transform="translate(504.77 516.00) scale(0.893 1)" class="num">-0.13</text>
<text transform="translate(540.58 516.00) scale(0.893 1)" class="num">-0.50</text>
<text transform="translate(576.39 516.00) scale(0.893 1)" class="num">1.00</text>
<rect x="92.95" y="18.20" width="501.34" height="512.19" fill="none" stroke="#000" stroke-width="3.6"/>
<text transform="translate(84.40 40.89) scale(0.964 1)" class="lab" text-anchor="end">OPC</text>
<text transform="translate(84.40 77.48) scale(0.964 1)" class="lab" text-anchor="end">FA</text>
<text transform="translate(84.40 114.06) scale(0.964 1)" class="lab" text-anchor="end">BFS</text>
<text transform="translate(84.40 150.65) scale(0.964 1)" class="lab" text-anchor="end">SF</text>
<text transform="translate(84.40 187.23) scale(0.964 1)" class="lab" text-anchor="end">SP</text>
<text transform="translate(84.40 223.82) scale(0.964 1)" class="lab" text-anchor="end">WC</text>
<text transform="translate(84.40 260.40) scale(0.964 1)" class="lab" text-anchor="end">Fine agg</text>
<text transform="translate(84.40 296.99) scale(0.964 1)" class="lab" text-anchor="end">Coarse agg</text>
<text transform="translate(84.40 333.57) scale(0.964 1)" class="lab" text-anchor="end">W/B</text>
<text transform="translate(84.40 370.16) scale(0.964 1)" class="lab" text-anchor="end">t</text>
<text transform="translate(84.40 406.74) scale(0.964 1)" class="lab" text-anchor="end">T</text>
<text transform="translate(84.40 443.33) scale(0.964 1)" class="lab" text-anchor="end">Cl content</text>
<text transform="translate(84.40 479.91) scale(0.964 1)" class="lab" text-anchor="end">Exposure type</text>
<text transform="translate(84.40 516.50) scale(0.964 1)" class="lab" text-anchor="end">Cs</text>
<text transform="translate(108.80 9.60) scale(0.964 1)" class="lab" text-anchor="middle">OPC</text>
<text transform="translate(145.85 47.70) scale(0.964 1)" class="lab" text-anchor="middle">FA</text>
<text transform="translate(182.90 82.90) scale(0.964 1)" class="lab" text-anchor="middle">BFS</text>
<text transform="translate(217.65 119.60) scale(0.964 1)" class="lab" text-anchor="middle">SF</text>
<text transform="translate(254.15 157.00) scale(0.964 1)" class="lab" text-anchor="middle">SP</text>
<text transform="translate(290.15 192.80) scale(0.964 1)" class="lab" text-anchor="middle">WC</text>
<text transform="translate(312.00 227.50) scale(0.964 1)" class="lab">Fine agg</text>
<text transform="translate(347.60 263.90) scale(0.964 1)" class="lab">Coarse agg</text>
<text transform="translate(397.50 302.80) scale(0.964 1)" class="lab" text-anchor="middle">W/B</text>
<text transform="translate(432.00 338.20) scale(0.964 1)" class="lab" text-anchor="middle">t</text>
<text transform="translate(469.00 374.50) scale(0.964 1)" class="lab" text-anchor="middle">T</text>
<text transform="translate(509.90 416.50) rotate(-90) scale(0.964 1)" class="lab">Cl content</text>
<text transform="translate(545.80 450.70) rotate(-90) scale(0.964 1)" class="lab">Exposure type</text>
<text transform="translate(578.25 485.10) scale(0.964 1)" class="lab" text-anchor="middle">Cs</text>
<rect x="616.60" y="20.60" width="28.40" height="511.80" fill="url(#gp)" stroke="#151515" stroke-width="1.35"/>
<line x1="645.00" y1="20.60" x2="652.50" y2="20.60" stroke="#151515" stroke-width="1.3"/>
<text x="656.80" y="25.00" class="cbl">1.0</text>
<line x1="645.00" y1="71.78" x2="652.50" y2="71.78" stroke="#151515" stroke-width="1.3"/>
<text x="656.80" y="76.18" class="cbl">0.80</text>
<line x1="645.00" y1="122.96" x2="652.50" y2="122.96" stroke="#151515" stroke-width="1.3"/>
<text x="656.80" y="127.36" class="cbl">0.60</text>
<line x1="645.00" y1="174.14" x2="652.50" y2="174.14" stroke="#151515" stroke-width="1.3"/>
<text x="656.80" y="178.54" class="cbl">0.40</text>
<line x1="645.00" y1="225.32" x2="652.50" y2="225.32" stroke="#151515" stroke-width="1.3"/>
<text x="656.80" y="229.72" class="cbl">0.20</text>
<line x1="645.00" y1="276.50" x2="652.50" y2="276.50" stroke="#151515" stroke-width="1.3"/>
<text x="656.80" y="280.90" class="cbl">0.0</text>
<line x1="645.00" y1="327.68" x2="652.50" y2="327.68" stroke="#151515" stroke-width="1.3"/>
<text x="656.80" y="332.08" class="cbl">-0.20</text>
<line x1="645.00" y1="378.86" x2="652.50" y2="378.86" stroke="#151515" stroke-width="1.3"/>
<text x="656.80" y="383.26" class="cbl">-0.40</text>
<line x1="645.00" y1="430.04" x2="652.50" y2="430.04" stroke="#151515" stroke-width="1.3"/>
<text x="656.80" y="434.44" class="cbl">-0.60</text>
<line x1="645.00" y1="481.22" x2="652.50" y2="481.22" stroke="#151515" stroke-width="1.3"/>
<text x="656.80" y="485.62" class="cbl">-0.80</text>
<line x1="645.00" y1="532.40" x2="652.50" y2="532.40" stroke="#151515" stroke-width="1.3"/>
<text x="656.80" y="536.80" class="cbl">-1.0</text>
<text transform="translate(342.35 566.5) scale(0.99 1)" class="title" text-anchor="middle">Pearson correlation heatmap</text>
<rect x="91.00" y="593.55" width="36.51" height="36.90" fill="none" stroke="#b4bcff" stroke-width="2.1"/>
<rect x="91.00" y="630.45" width="36.51" height="36.90" fill="none" stroke="#b4bcff" stroke-width="2.1"/>
<rect x="127.51" y="630.45" width="36.51" height="36.90" fill="none" stroke="#b4bcff" stroke-width="2.1"/>
<rect x="91.00" y="667.35" width="36.51" height="36.90" fill="none" stroke="#b4bcff" stroke-width="2.1"/>
<rect x="127.51" y="667.35" width="36.51" height="36.90" fill="none" stroke="#b4bcff" stroke-width="2.1"/>
<rect x="164.02" y="667.35" width="36.51" height="36.90" fill="none" stroke="#b4bcff" stroke-width="2.1"/>
<rect x="91.00" y="704.25" width="36.51" height="36.90" fill="none" stroke="#b4bcff" stroke-width="2.1"/>
<rect x="127.51" y="704.25" width="36.51" height="36.90" fill="none" stroke="#b4bcff" stroke-width="2.1"/>
<rect x="164.02" y="704.25" width="36.51" height="36.90" fill="none" stroke="#b4bcff" stroke-width="2.1"/>
<rect x="200.53" y="704.25" width="36.51" height="36.90" fill="none" stroke="#b4bcff" stroke-width="2.1"/>
<rect x="91.00" y="741.15" width="36.51" height="36.90" fill="none" stroke="#b4bcff" stroke-width="2.1"/>
<rect x="127.51" y="741.15" width="36.51" height="36.90" fill="none" stroke="#b4bcff" stroke-width="2.1"/>
<rect x="164.02" y="741.15" width="36.51" height="36.90" fill="none" stroke="#b4bcff" stroke-width="2.1"/>
<rect x="200.53" y="741.15" width="36.51" height="36.90" fill="none" stroke="#b4bcff" stroke-width="2.1"/>
<rect x="237.04" y="741.15" width="36.51" height="36.90" fill="none" stroke="#b4bcff" stroke-width="2.1"/>
<rect x="91.00" y="778.05" width="36.51" height="36.90" fill="none" stroke="#b4bcff" stroke-width="2.1"/>
<rect x="127.51" y="778.05" width="36.51" height="36.90" fill="none" stroke="#b4bcff" stroke-width="2.1"/>
<rect x="164.02" y="778.05" width="36.51" height="36.90" fill="none" stroke="#b4bcff" stroke-width="2.1"/>
<rect x="200.53" y="778.05" width="36.51" height="36.90" fill="none" stroke="#b4bcff" stroke-width="2.1"/>
<rect x="237.04" y="778.05" width="36.51" height="36.90" fill="none" stroke="#b4bcff" stroke-width="2.1"/>
<rect x="273.55" y="778.05" width="36.51" height="36.90" fill="none" stroke="#b4bcff" stroke-width="2.1"/>
<rect x="91.00" y="814.95" width="36.51" height="36.90" fill="none" stroke="#b4bcff" stroke-width="2.1"/>
<rect x="127.51" y="814.95" width="36.51" height="36.90" fill="none" stroke="#b4bcff" stroke-width="2.1"/>
<rect x="164.02" y="814.95" width="36.51" height="36.90" fill="none" stroke="#b4bcff" stroke-width="2.1"/>
<rect x="200.53" y="814.95" width="36.51" height="36.90" fill="none" stroke="#b4bcff" stroke-width="2.1"/>
<rect x="237.04" y="814.95" width="36.51" height="36.90" fill="none" stroke="#b4bcff" stroke-width="2.1"/>
<rect x="273.55" y="814.95" width="36.51" height="36.90" fill="none" stroke="#b4bcff" stroke-width="2.1"/>
<rect x="310.06" y="814.95" width="36.51" height="36.90" fill="none" stroke="#b4bcff" stroke-width="2.1"/>
<rect x="91.00" y="851.85" width="36.51" height="36.90" fill="none" stroke="#b4bcff" stroke-width="2.1"/>
<rect x="127.51" y="851.85" width="36.51" height="36.90" fill="none" stroke="#b4bcff" stroke-width="2.1"/>
<rect x="164.02" y="851.85" width="36.51" height="36.90" fill="none" stroke="#b4bcff" stroke-width="2.1"/>
<rect x="200.53" y="851.85" width="36.51" height="36.90" fill="none" stroke="#b4bcff" stroke-width="2.1"/>
<rect x="237.04" y="851.85" width="36.51" height="36.90" fill="none" stroke="#b4bcff" stroke-width="2.1"/>
<rect x="273.55" y="851.85" width="36.51" height="36.90" fill="none" stroke="#b4bcff" stroke-width="2.1"/>
<rect x="310.06" y="851.85" width="36.51" height="36.90" fill="none" stroke="#b4bcff" stroke-width="2.1"/>
<rect x="346.57" y="851.85" width="36.51" height="36.90" fill="none" stroke="#b4bcff" stroke-width="2.1"/>
<rect x="91.00" y="888.75" width="36.51" height="36.90" fill="none" stroke="#b4bcff" stroke-width="2.1"/>
<rect x="127.51" y="888.75" width="36.51" height="36.90" fill="none" stroke="#b4bcff" stroke-width="2.1"/>
<rect x="164.02" y="888.75" width="36.51" height="36.90" fill="none" stroke="#b4bcff" stroke-width="2.1"/>
<rect x="200.53" y="888.75" width="36.51" height="36.90" fill="none" stroke="#b4bcff" stroke-width="2.1"/>
<rect x="237.04" y="888.75" width="36.51" height="36.90" fill="none" stroke="#b4bcff" stroke-width="2.1"/>
<rect x="273.55" y="888.75" width="36.51" height="36.90" fill="none" stroke="#b4bcff" stroke-width="2.1"/>
<rect x="310.06" y="888.75" width="36.51" height="36.90" fill="none" stroke="#b4bcff" stroke-width="2.1"/>
<rect x="346.57" y="888.75" width="36.51" height="36.90" fill="none" stroke="#b4bcff" stroke-width="2.1"/>
<rect x="383.08" y="888.75" width="36.51" height="36.90" fill="none" stroke="#b4bcff" stroke-width="2.1"/>
<rect x="91.00" y="925.65" width="36.51" height="36.90" fill="none" stroke="#b4bcff" stroke-width="2.1"/>
<rect x="127.51" y="925.65" width="36.51" height="36.90" fill="none" stroke="#b4bcff" stroke-width="2.1"/>
<rect x="164.02" y="925.65" width="36.51" height="36.90" fill="none" stroke="#b4bcff" stroke-width="2.1"/>
<rect x="200.53" y="925.65" width="36.51" height="36.90" fill="none" stroke="#b4bcff" stroke-width="2.1"/>
<rect x="237.04" y="925.65" width="36.51" height="36.90" fill="none" stroke="#b4bcff" stroke-width="2.1"/>
<rect x="273.55" y="925.65" width="36.51" height="36.90" fill="none" stroke="#b4bcff" stroke-width="2.1"/>
<rect x="310.06" y="925.65" width="36.51" height="36.90" fill="none" stroke="#b4bcff" stroke-width="2.1"/>
<rect x="346.57" y="925.65" width="36.51" height="36.90" fill="none" stroke="#b4bcff" stroke-width="2.1"/>
<rect x="383.08" y="925.65" width="36.51" height="36.90" fill="none" stroke="#b4bcff" stroke-width="2.1"/>
<rect x="419.59" y="925.65" width="36.51" height="36.90" fill="none" stroke="#b4bcff" stroke-width="2.1"/>
<rect x="91.00" y="962.55" width="36.51" height="36.90" fill="none" stroke="#b4bcff" stroke-width="2.1"/>
<rect x="127.51" y="962.55" width="36.51" height="36.90" fill="none" stroke="#b4bcff" stroke-width="2.1"/>
<rect x="164.02" y="962.55" width="36.51" height="36.90" fill="none" stroke="#b4bcff" stroke-width="2.1"/>
<rect x="200.53" y="962.55" width="36.51" height="36.90" fill="none" stroke="#b4bcff" stroke-width="2.1"/>
<rect x="237.04" y="962.55" width="36.51" height="36.90" fill="none" stroke="#b4bcff" stroke-width="2.1"/>
<rect x="273.55" y="962.55" width="36.51" height="36.90" fill="none" stroke="#b4bcff" stroke-width="2.1"/>
<rect x="310.06" y="962.55" width="36.51" height="36.90" fill="none" stroke="#b4bcff" stroke-width="2.1"/>
<rect x="346.57" y="962.55" width="36.51" height="36.90" fill="none" stroke="#b4bcff" stroke-width="2.1"/>
<rect x="383.08" y="962.55" width="36.51" height="36.90" fill="none" stroke="#b4bcff" stroke-width="2.1"/>
<rect x="419.59" y="962.55" width="36.51" height="36.90" fill="none" stroke="#b4bcff" stroke-width="2.1"/>
<rect x="456.10" y="962.55" width="36.51" height="36.90" fill="none" stroke="#b4bcff" stroke-width="2.1"/>
<rect x="91.00" y="999.45" width="36.51" height="36.90" fill="none" stroke="#b4bcff" stroke-width="2.1"/>
<rect x="127.51" y="999.45" width="36.51" height="36.90" fill="none" stroke="#b4bcff" stroke-width="2.1"/>
<rect x="164.02" y="999.45" width="36.51" height="36.90" fill="none" stroke="#b4bcff" stroke-width="2.1"/>
<rect x="200.53" y="999.45" width="36.51" height="36.90" fill="none" stroke="#b4bcff" stroke-width="2.1"/>
<rect x="237.04" y="999.45" width="36.51" height="36.90" fill="none" stroke="#b4bcff" stroke-width="2.1"/>
<rect x="273.55" y="999.45" width="36.51" height="36.90" fill="none" stroke="#b4bcff" stroke-width="2.1"/>
<rect x="310.06" y="999.45" width="36.51" height="36.90" fill="none" stroke="#b4bcff" stroke-width="2.1"/>
<rect x="346.57" y="999.45" width="36.51" height="36.90" fill="none" stroke="#b4bcff" stroke-width="2.1"/>
<rect x="383.08" y="999.45" width="36.51" height="36.90" fill="none" stroke="#b4bcff" stroke-width="2.1"/>
<rect x="419.59" y="999.45" width="36.51" height="36.90" fill="none" stroke="#b4bcff" stroke-width="2.1"/>
<rect x="456.10" y="999.45" width="36.51" height="36.90" fill="none" stroke="#b4bcff" stroke-width="2.1"/>
<rect x="492.61" y="999.45" width="36.51" height="36.90" fill="none" stroke="#b4bcff" stroke-width="2.1"/>
<rect x="91.00" y="1036.35" width="36.51" height="36.90" fill="none" stroke="#b4bcff" stroke-width="2.1"/>
<rect x="127.51" y="1036.35" width="36.51" height="36.90" fill="none" stroke="#b4bcff" stroke-width="2.1"/>
<rect x="164.02" y="1036.35" width="36.51" height="36.90" fill="none" stroke="#b4bcff" stroke-width="2.1"/>
<rect x="200.53" y="1036.35" width="36.51" height="36.90" fill="none" stroke="#b4bcff" stroke-width="2.1"/>
<rect x="237.04" y="1036.35" width="36.51" height="36.90" fill="none" stroke="#b4bcff" stroke-width="2.1"/>
<rect x="273.55" y="1036.35" width="36.51" height="36.90" fill="none" stroke="#b4bcff" stroke-width="2.1"/>
<rect x="310.06" y="1036.35" width="36.51" height="36.90" fill="none" stroke="#b4bcff" stroke-width="2.1"/>
<rect x="346.57" y="1036.35" width="36.51" height="36.90" fill="none" stroke="#b4bcff" stroke-width="2.1"/>
<rect x="383.08" y="1036.35" width="36.51" height="36.90" fill="none" stroke="#b4bcff" stroke-width="2.1"/>
<rect x="419.59" y="1036.35" width="36.51" height="36.90" fill="none" stroke="#b4bcff" stroke-width="2.1"/>
<rect x="456.10" y="1036.35" width="36.51" height="36.90" fill="none" stroke="#b4bcff" stroke-width="2.1"/>
<rect x="492.61" y="1036.35" width="36.51" height="36.90" fill="none" stroke="#b4bcff" stroke-width="2.1"/>
<rect x="529.12" y="1036.35" width="36.51" height="36.90" fill="none" stroke="#b4bcff" stroke-width="2.1"/>
<rect x="91.00" y="1073.25" width="36.51" height="36.90" fill="none" stroke="#b4bcff" stroke-width="2.1"/>
<rect x="127.51" y="1073.25" width="36.51" height="36.90" fill="none" stroke="#b4bcff" stroke-width="2.1"/>
<rect x="164.02" y="1073.25" width="36.51" height="36.90" fill="none" stroke="#b4bcff" stroke-width="2.1"/>
<rect x="200.53" y="1073.25" width="36.51" height="36.90" fill="none" stroke="#b4bcff" stroke-width="2.1"/>
<rect x="237.04" y="1073.25" width="36.51" height="36.90" fill="none" stroke="#b4bcff" stroke-width="2.1"/>
<rect x="273.55" y="1073.25" width="36.51" height="36.90" fill="none" stroke="#b4bcff" stroke-width="2.1"/>
<rect x="310.06" y="1073.25" width="36.51" height="36.90" fill="none" stroke="#b4bcff" stroke-width="2.1"/>
<rect x="346.57" y="1073.25" width="36.51" height="36.90" fill="none" stroke="#b4bcff" stroke-width="2.1"/>
<rect x="383.08" y="1073.25" width="36.51" height="36.90" fill="none" stroke="#b4bcff" stroke-width="2.1"/>
<rect x="419.59" y="1073.25" width="36.51" height="36.90" fill="none" stroke="#b4bcff" stroke-width="2.1"/>
<rect x="456.10" y="1073.25" width="36.51" height="36.90" fill="none" stroke="#b4bcff" stroke-width="2.1"/>
<rect x="492.61" y="1073.25" width="36.51" height="36.90" fill="none" stroke="#b4bcff" stroke-width="2.1"/>
<rect x="529.12" y="1073.25" width="36.51" height="36.90" fill="none" stroke="#b4bcff" stroke-width="2.1"/>
<rect x="565.63" y="1073.25" width="36.51" height="36.90" fill="none" stroke="#b4bcff" stroke-width="2.1"/>
<line x1="93.60" y1="627.65" x2="124.91" y2="596.35" stroke="#fd9230" stroke-width="1.1"/>
<ellipse cx="109.25" cy="648.90" rx="19.17" ry="11.07" transform="rotate(45 109.25 648.90)" fill="rgb(128,128,204)" stroke="#fd9230" stroke-width="1.1"/>
<line x1="130.11" y1="664.55" x2="161.41" y2="633.25" stroke="#fd9230" stroke-width="1.1"/>
<ellipse cx="109.25" cy="685.80" rx="18.52" ry="12.12" transform="rotate(45 109.25 685.80)" fill="rgb(153,153,214)" stroke="#fd9230" stroke-width="1.1"/>
<ellipse cx="145.76" cy="685.80" rx="16.11" ry="15.17" transform="rotate(45 145.76 685.80)" fill="rgb(240,240,249)" stroke="#fd9230" stroke-width="1.1"/>
<line x1="166.62" y1="701.45" x2="197.92" y2="670.15" stroke="#fd9230" stroke-width="1.1"/>
<ellipse cx="109.25" cy="722.70" rx="16.64" ry="14.60" transform="rotate(-45 109.25 722.70)" fill="rgb(255,222,222)" stroke="#fd9230" stroke-width="1.1"/>
<ellipse cx="145.76" cy="722.70" rx="17.77" ry="13.19" transform="rotate(45 145.76 722.70)" fill="rgb(181,181,225)" stroke="#fd9230" stroke-width="1.1"/>
<ellipse cx="182.27" cy="722.70" rx="16.56" ry="14.68" transform="rotate(45 182.27 722.70)" fill="rgb(224,224,243)" stroke="#fd9230" stroke-width="1.1"/>
<line x1="203.13" y1="738.35" x2="234.44" y2="707.05" stroke="#fd9230" stroke-width="1.1"/>
<ellipse cx="109.25" cy="759.60" rx="17.50" ry="13.55" transform="rotate(-45 109.25 759.60)" fill="rgb(255,191,191)" stroke="#fd9230" stroke-width="1.1"/>
<ellipse cx="145.76" cy="759.60" rx="18.25" ry="12.52" transform="rotate(45 145.76 759.60)" fill="rgb(163,163,218)" stroke="#fd9230" stroke-width="1.1"/>
<ellipse cx="182.27" cy="759.60" rx="16.19" ry="15.09" transform="rotate(-45 182.27 759.60)" fill="rgb(255,237,237)" stroke="#fd9230" stroke-width="1.1"/>
<ellipse cx="218.78" cy="759.60" rx="17.57" ry="13.46" transform="rotate(-45 218.78 759.60)" fill="rgb(255,189,189)" stroke="#fd9230" stroke-width="1.1"/>
<line x1="239.64" y1="775.25" x2="270.94" y2="743.95" stroke="#fd9230" stroke-width="1.1"/>
<ellipse cx="109.25" cy="796.50" rx="16.78" ry="14.43" transform="rotate(-45 109.25 796.50)" fill="rgb(255,217,217)" stroke="#fd9230" stroke-width="1.1"/>
<ellipse cx="145.76" cy="796.50" rx="18.52" ry="12.12" transform="rotate(-45 145.76 796.50)" fill="rgb(255,153,153)" stroke="#fd9230" stroke-width="1.1"/>
<ellipse cx="182.27" cy="796.50" rx="17.84" ry="13.09" transform="rotate(45 182.27 796.50)" fill="rgb(178,178,224)" stroke="#fd9230" stroke-width="1.1"/>
<ellipse cx="218.78" cy="796.50" rx="17.22" ry="13.91" transform="rotate(45 218.78 796.50)" fill="rgb(201,201,234)" stroke="#fd9230" stroke-width="1.1"/>
<ellipse cx="255.29" cy="796.50" rx="17.84" ry="13.09" transform="rotate(45 255.29 796.50)" fill="rgb(178,178,224)" stroke="#fd9230" stroke-width="1.1"/>
<line x1="276.15" y1="812.15" x2="307.45" y2="780.85" stroke="#fd9230" stroke-width="1.1"/>
<ellipse cx="109.25" cy="833.40" rx="15.81" ry="15.49" transform="rotate(-45 109.25 833.40)" fill="rgb(255,250,250)" stroke="#fd9230" stroke-width="1.1"/>
<ellipse cx="145.76" cy="833.40" rx="18.71" ry="11.82" transform="rotate(45 145.76 833.40)" fill="rgb(145,145,211)" stroke="#fd9230" stroke-width="1.1"/>
<ellipse cx="182.27" cy="833.40" rx="15.96" ry="15.33" transform="rotate(45 182.27 833.40)" fill="rgb(245,245,251)" stroke="#fd9230" stroke-width="1.1"/>
<ellipse cx="218.78" cy="833.40" rx="17.98" ry="12.91" transform="rotate(-45 218.78 833.40)" fill="rgb(255,173,173)" stroke="#fd9230" stroke-width="1.1"/>
<ellipse cx="255.29" cy="833.40" rx="18.52" ry="12.12" transform="rotate(-45 255.29 833.40)" fill="rgb(255,153,153)" stroke="#fd9230" stroke-width="1.1"/>
<ellipse cx="291.80" cy="833.40" rx="19.48" ry="10.50" transform="rotate(45 291.80 833.40)" fill="rgb(115,115,199)" stroke="#fd9230" stroke-width="1.1"/>
<line x1="312.67" y1="849.05" x2="343.96" y2="817.75" stroke="#fd9230" stroke-width="1.1"/>
<ellipse cx="109.25" cy="870.30" rx="15.81" ry="15.49" transform="rotate(45 109.25 870.30)" fill="rgb(250,250,253)" stroke="#fd9230" stroke-width="1.1"/>
<ellipse cx="145.76" cy="870.30" rx="16.93" ry="14.26" transform="rotate(45 145.76 870.30)" fill="rgb(212,212,238)" stroke="#fd9230" stroke-width="1.1"/>
<ellipse cx="182.27" cy="870.30" rx="16.56" ry="14.68" transform="rotate(-45 182.27 870.30)" fill="rgb(255,224,224)" stroke="#fd9230" stroke-width="1.1"/>
<ellipse cx="218.78" cy="870.30" rx="17.91" ry="13.00" transform="rotate(45 218.78 870.30)" fill="rgb(176,176,223)" stroke="#fd9230" stroke-width="1.1"/>
<ellipse cx="255.29" cy="870.30" rx="16.78" ry="14.43" transform="rotate(-45 255.29 870.30)" fill="rgb(255,217,217)" stroke="#fd9230" stroke-width="1.1"/>
<ellipse cx="291.80" cy="870.30" rx="17.91" ry="13.00" transform="rotate(45 291.80 870.30)" fill="rgb(176,176,223)" stroke="#fd9230" stroke-width="1.1"/>
<ellipse cx="328.31" cy="870.30" rx="17.29" ry="13.82" transform="rotate(45 328.31 870.30)" fill="rgb(199,199,233)" stroke="#fd9230" stroke-width="1.1"/>
<line x1="349.18" y1="885.95" x2="380.47" y2="854.65" stroke="#fd9230" stroke-width="1.1"/>
<ellipse cx="109.25" cy="907.20" rx="18.71" ry="11.82" transform="rotate(45 109.25 907.20)" fill="rgb(145,145,211)" stroke="#fd9230" stroke-width="1.1"/>
<ellipse cx="145.76" cy="907.20" rx="18.38" ry="12.32" transform="rotate(-45 145.76 907.20)" fill="rgb(255,158,158)" stroke="#fd9230" stroke-width="1.1"/>
<ellipse cx="182.27" cy="907.20" rx="17.07" ry="14.09" transform="rotate(45 182.27 907.20)" fill="rgb(207,207,236)" stroke="#fd9230" stroke-width="1.1"/>
<ellipse cx="218.78" cy="907.20" rx="17.64" ry="13.37" transform="rotate(45 218.78 907.20)" fill="rgb(186,186,227)" stroke="#fd9230" stroke-width="1.1"/>
<ellipse cx="255.29" cy="907.20" rx="19.67" ry="10.14" transform="rotate(45 255.29 907.20)" fill="rgb(107,107,196)" stroke="#fd9230" stroke-width="1.1"/>
<ellipse cx="291.80" cy="907.20" rx="19.29" ry="10.84" transform="rotate(-45 291.80 907.20)" fill="rgb(255,122,122)" stroke="#fd9230" stroke-width="1.1"/>
<ellipse cx="328.31" cy="907.20" rx="18.12" ry="12.71" transform="rotate(45 328.31 907.20)" fill="rgb(168,168,220)" stroke="#fd9230" stroke-width="1.1"/>
<ellipse cx="364.82" cy="907.20" rx="16.86" ry="14.34" transform="rotate(45 364.82 907.20)" fill="rgb(214,214,239)" stroke="#fd9230" stroke-width="1.1"/>
<line x1="385.69" y1="922.85" x2="416.98" y2="891.55" stroke="#fd9230" stroke-width="1.1"/>
<ellipse cx="109.25" cy="944.10" rx="15.65" ry="15.65" transform="rotate(-45 109.25 944.10)" fill="rgb(255,255,255)" stroke="#fd9230" stroke-width="1.1"/>
<ellipse cx="145.76" cy="944.10" rx="15.96" ry="15.33" transform="rotate(-45 145.76 944.10)" fill="rgb(255,245,245)" stroke="#fd9230" stroke-width="1.1"/>
<ellipse cx="182.27" cy="944.10" rx="16.49" ry="14.76" transform="rotate(-45 182.27 944.10)" fill="rgb(255,227,227)" stroke="#fd9230" stroke-width="1.1"/>
<ellipse cx="218.78" cy="944.10" rx="15.96" ry="15.33" transform="rotate(45 218.78 944.10)" fill="rgb(245,245,251)" stroke="#fd9230" stroke-width="1.1"/>
<ellipse cx="255.29" cy="944.10" rx="15.81" ry="15.49" transform="rotate(-45 255.29 944.10)" fill="rgb(255,250,250)" stroke="#fd9230" stroke-width="1.1"/>
<ellipse cx="291.80" cy="944.10" rx="16.49" ry="14.76" transform="rotate(-45 291.80 944.10)" fill="rgb(255,227,227)" stroke="#fd9230" stroke-width="1.1"/>
<ellipse cx="328.31" cy="944.10" rx="16.78" ry="14.43" transform="rotate(45 328.31 944.10)" fill="rgb(217,217,240)" stroke="#fd9230" stroke-width="1.1"/>
<ellipse cx="364.82" cy="944.10" rx="16.26" ry="15.01" transform="rotate(45 364.82 944.10)" fill="rgb(235,235,247)" stroke="#fd9230" stroke-width="1.1"/>
<ellipse cx="401.33" cy="944.10" rx="15.88" ry="15.41" transform="rotate(-45 401.33 944.10)" fill="rgb(255,247,247)" stroke="#fd9230" stroke-width="1.1"/>
<line x1="422.19" y1="959.75" x2="453.49" y2="928.45" stroke="#fd9230" stroke-width="1.1"/>
<ellipse cx="109.25" cy="981.00" rx="16.11" ry="15.17" transform="rotate(45 109.25 981.00)" fill="rgb(240,240,249)" stroke="#fd9230" stroke-width="1.1"/>
<ellipse cx="145.76" cy="981.00" rx="16.93" ry="14.26" transform="rotate(-45 145.76 981.00)" fill="rgb(255,212,212)" stroke="#fd9230" stroke-width="1.1"/>
<ellipse cx="182.27" cy="981.00" rx="15.88" ry="15.41" transform="rotate(45 182.27 981.00)" fill="rgb(247,247,252)" stroke="#fd9230" stroke-width="1.1"/>
<ellipse cx="218.78" cy="981.00" rx="18.32" ry="12.42" transform="rotate(-45 218.78 981.00)" fill="rgb(255,161,161)" stroke="#fd9230" stroke-width="1.1"/>
<ellipse cx="255.29" cy="981.00" rx="17.98" ry="12.91" transform="rotate(45 255.29 981.00)" fill="rgb(173,173,222)" stroke="#fd9230" stroke-width="1.1"/>
<ellipse cx="291.80" cy="981.00" rx="17.64" ry="13.37" transform="rotate(-45 291.80 981.00)" fill="rgb(255,186,186)" stroke="#fd9230" stroke-width="1.1"/>
<ellipse cx="328.31" cy="981.00" rx="17.71" ry="13.28" transform="rotate(45 328.31 981.00)" fill="rgb(184,184,226)" stroke="#fd9230" stroke-width="1.1"/>
<ellipse cx="364.82" cy="981.00" rx="18.97" ry="11.39" transform="rotate(45 364.82 981.00)" fill="rgb(135,135,207)" stroke="#fd9230" stroke-width="1.1"/>
<ellipse cx="401.33" cy="981.00" rx="17.36" ry="13.73" transform="rotate(-45 401.33 981.00)" fill="rgb(255,196,196)" stroke="#fd9230" stroke-width="1.1"/>
<ellipse cx="437.84" cy="981.00" rx="16.56" ry="14.68" transform="rotate(-45 437.84 981.00)" fill="rgb(255,224,224)" stroke="#fd9230" stroke-width="1.1"/>
<line x1="458.70" y1="996.65" x2="490.00" y2="965.35" stroke="#fd9230" stroke-width="1.1"/>
<ellipse cx="109.25" cy="1017.90" rx="16.26" ry="15.01" transform="rotate(-45 109.25 1017.90)" fill="rgb(255,235,235)" stroke="#fd9230" stroke-width="1.1"/>
<ellipse cx="145.76" cy="1017.90" rx="18.12" ry="12.71" transform="rotate(45 145.76 1017.90)" fill="rgb(168,168,220)" stroke="#fd9230" stroke-width="1.1"/>
<ellipse cx="182.27" cy="1017.90" rx="15.88" ry="15.41" transform="rotate(-45 182.27 1017.90)" fill="rgb(255,247,247)" stroke="#fd9230" stroke-width="1.1"/>
<ellipse cx="218.78" cy="1017.90" rx="18.78" ry="11.71" transform="rotate(-45 218.78 1017.90)" fill="rgb(255,143,143)" stroke="#fd9230" stroke-width="1.1"/>
<ellipse cx="255.29" cy="1017.90" rx="19.36" ry="10.73" transform="rotate(-45 255.29 1017.90)" fill="rgb(255,120,120)" stroke="#fd9230" stroke-width="1.1"/>
<ellipse cx="291.80" cy="1017.90" rx="18.58" ry="12.02" transform="rotate(45 291.80 1017.90)" fill="rgb(150,150,213)" stroke="#fd9230" stroke-width="1.1"/>
<ellipse cx="328.31" cy="1017.90" rx="18.18" ry="12.62" transform="rotate(-45 328.31 1017.90)" fill="rgb(255,166,166)" stroke="#fd9230" stroke-width="1.1"/>
<ellipse cx="364.82" cy="1017.90" rx="16.49" ry="14.76" transform="rotate(-45 364.82 1017.90)" fill="rgb(255,227,227)" stroke="#fd9230" stroke-width="1.1"/>
<ellipse cx="401.33" cy="1017.90" rx="17.98" ry="12.91" transform="rotate(45 401.33 1017.90)" fill="rgb(173,173,222)" stroke="#fd9230" stroke-width="1.1"/>
<ellipse cx="437.84" cy="1017.90" rx="16.78" ry="14.43" transform="rotate(45 437.84 1017.90)" fill="rgb(217,217,240)" stroke="#fd9230" stroke-width="1.1"/>
<ellipse cx="474.35" cy="1017.90" rx="16.71" ry="14.51" transform="rotate(45 474.35 1017.90)" fill="rgb(219,219,241)" stroke="#fd9230" stroke-width="1.1"/>
<line x1="495.21" y1="1033.55" x2="526.51" y2="1002.25" stroke="#fd9230" stroke-width="1.1"/>
<ellipse cx="109.25" cy="1054.80" rx="16.19" ry="15.09" transform="rotate(-45 109.25 1054.80)" fill="rgb(255,237,237)" stroke="#fd9230" stroke-width="1.1"/>
<ellipse cx="145.76" cy="1054.80" rx="17.07" ry="14.09" transform="rotate(45 145.76 1054.80)" fill="rgb(207,207,236)" stroke="#fd9230" stroke-width="1.1"/>
<ellipse cx="182.27" cy="1054.80" rx="16.34" ry="14.93" transform="rotate(45 182.27 1054.80)" fill="rgb(232,232,246)" stroke="#fd9230" stroke-width="1.1"/>
<ellipse cx="218.78" cy="1054.80" rx="15.73" ry="15.57" transform="rotate(-45 218.78 1054.80)" fill="rgb(255,252,252)" stroke="#fd9230" stroke-width="1.1"/>
<ellipse cx="255.29" cy="1054.80" rx="16.49" ry="14.76" transform="rotate(-45 255.29 1054.80)" fill="rgb(255,227,227)" stroke="#fd9230" stroke-width="1.1"/>
<ellipse cx="291.80" cy="1054.80" rx="17.50" ry="13.55" transform="rotate(45 291.80 1054.80)" fill="rgb(191,191,230)" stroke="#fd9230" stroke-width="1.1"/>
<ellipse cx="328.31" cy="1054.80" rx="17.84" ry="13.09" transform="rotate(-45 328.31 1054.80)" fill="rgb(255,178,178)" stroke="#fd9230" stroke-width="1.1"/>
<ellipse cx="364.82" cy="1054.80" rx="16.04" ry="15.25" transform="rotate(-45 364.82 1054.80)" fill="rgb(255,242,242)" stroke="#fd9230" stroke-width="1.1"/>
<ellipse cx="401.33" cy="1054.80" rx="16.56" ry="14.68" transform="rotate(45 401.33 1054.80)" fill="rgb(224,224,243)" stroke="#fd9230" stroke-width="1.1"/>
<ellipse cx="437.84" cy="1054.80" rx="16.93" ry="14.26" transform="rotate(45 437.84 1054.80)" fill="rgb(212,212,238)" stroke="#fd9230" stroke-width="1.1"/>
<ellipse cx="474.35" cy="1054.80" rx="17.22" ry="13.91" transform="rotate(45 474.35 1054.80)" fill="rgb(201,201,234)" stroke="#fd9230" stroke-width="1.1"/>
<ellipse cx="510.86" cy="1054.80" rx="15.65" ry="15.65" transform="rotate(-45 510.86 1054.80)" fill="rgb(255,255,255)" stroke="#fd9230" stroke-width="1.1"/>
<line x1="531.73" y1="1070.45" x2="563.02" y2="1039.15" stroke="#fd9230" stroke-width="1.1"/>
<ellipse cx="109.25" cy="1091.70" rx="16.26" ry="15.01" transform="rotate(45 109.25 1091.70)" fill="rgb(235,235,247)" stroke="#fd9230" stroke-width="1.1"/>
<ellipse cx="145.76" cy="1091.70" rx="18.45" ry="12.22" transform="rotate(-45 145.76 1091.70)" fill="rgb(255,156,156)" stroke="#fd9230" stroke-width="1.1"/>
<ellipse cx="182.27" cy="1091.70" rx="16.41" ry="14.85" transform="rotate(45 182.27 1091.70)" fill="rgb(230,230,245)" stroke="#fd9230" stroke-width="1.1"/>
<ellipse cx="218.78" cy="1091.70" rx="15.88" ry="15.41" transform="rotate(-45 218.78 1091.70)" fill="rgb(255,247,247)" stroke="#fd9230" stroke-width="1.1"/>
<ellipse cx="255.29" cy="1091.70" rx="17.64" ry="13.37" transform="rotate(45 255.29 1091.70)" fill="rgb(186,186,227)" stroke="#fd9230" stroke-width="1.1"/>
<ellipse cx="291.80" cy="1091.70" rx="19.04" ry="11.29" transform="rotate(-45 291.80 1091.70)" fill="rgb(255,133,133)" stroke="#fd9230" stroke-width="1.1"/>
<ellipse cx="328.31" cy="1091.70" rx="18.25" ry="12.52" transform="rotate(45 328.31 1091.70)" fill="rgb(163,163,218)" stroke="#fd9230" stroke-width="1.1"/>
<ellipse cx="364.82" cy="1091.70" rx="17.29" ry="13.82" transform="rotate(45 364.82 1091.70)" fill="rgb(199,199,233)" stroke="#fd9230" stroke-width="1.1"/>
<ellipse cx="401.33" cy="1091.70" rx="17.84" ry="13.09" transform="rotate(-45 401.33 1091.70)" fill="rgb(255,178,178)" stroke="#fd9230" stroke-width="1.1"/>
<ellipse cx="437.84" cy="1091.70" rx="17.77" ry="13.19" transform="rotate(-45 437.84 1091.70)" fill="rgb(255,181,181)" stroke="#fd9230" stroke-width="1.1"/>
<ellipse cx="474.35" cy="1091.70" rx="17.91" ry="13.00" transform="rotate(-45 474.35 1091.70)" fill="rgb(255,176,176)" stroke="#fd9230" stroke-width="1.1"/>
<ellipse cx="510.86" cy="1091.70" rx="16.78" ry="14.43" transform="rotate(45 510.86 1091.70)" fill="rgb(217,217,240)" stroke="#fd9230" stroke-width="1.1"/>
<ellipse cx="547.38" cy="1091.70" rx="19.48" ry="10.50" transform="rotate(45 547.38 1091.70)" fill="rgb(115,115,199)" stroke="#fd9230" stroke-width="1.1"/>
<line x1="568.24" y1="1107.35" x2="599.53" y2="1076.05" stroke="#fd9230" stroke-width="1.1"/>
<text transform="translate(109.25 615.90) scale(0.893 1)" class="num">1.00</text>
<text transform="translate(109.25 652.80) scale(0.893 1)" class="num">-0.50</text>
<text transform="translate(145.76 652.80) scale(0.893 1)" class="num">1.00</text>
<text transform="translate(109.25 689.70) scale(0.893 1)" class="num">-0.40</text>
<text transform="translate(145.76 689.70) scale(0.893 1)" class="num">-0.06</text>
<text transform="translate(182.27 689.70) scale(0.893 1)" class="num">1.00</text>
<text transform="translate(109.25 726.60) scale(0.893 1)" class="num">0.13</text>
<text transform="translate(145.76 726.60) scale(0.893 1)" class="num">-0.29</text>
<text transform="translate(182.27 726.60) scale(0.893 1)" class="num">-0.12</text>
<text transform="translate(218.78 726.60) scale(0.893 1)" class="num">1.00</text>
<text transform="translate(109.25 763.50) scale(0.893 1)" class="num">0.25</text>
<text transform="translate(145.76 763.50) scale(0.893 1)" class="num">-0.36</text>
<text transform="translate(182.27 763.50) scale(0.893 1)" class="num">0.07</text>
<text transform="translate(218.78 763.50) scale(0.893 1)" class="num">0.26</text>
<text transform="translate(255.29 763.50) scale(0.893 1)" class="num">1.00</text>
<text transform="translate(109.25 800.40) scale(0.893 1)" class="num">0.15</text>
<text transform="translate(145.76 800.40) scale(0.893 1)" class="num">0.40</text>
<text transform="translate(182.27 800.40) scale(0.893 1)" class="num">-0.30</text>
<text transform="translate(218.78 800.40) scale(0.893 1)" class="num">-0.21</text>
<text transform="translate(255.29 800.40) scale(0.893 1)" class="num">-0.30</text>
<text transform="translate(291.80 800.40) scale(0.893 1)" class="num">1.00</text>
<text transform="translate(109.25 837.30) scale(0.893 1)" class="num">0.02</text>
<text transform="translate(145.76 837.30) scale(0.893 1)" class="num">-0.43</text>
<text transform="translate(182.27 837.30) scale(0.893 1)" class="num">-0.04</text>
<text transform="translate(218.78 837.30) scale(0.893 1)" class="num">0.32</text>
<text transform="translate(255.29 837.30) scale(0.893 1)" class="num">0.40</text>
<text transform="translate(291.80 837.30) scale(0.893 1)" class="num">-0.55</text>
<text transform="translate(328.31 837.30) scale(0.893 1)" class="num">1.00</text>
<text transform="translate(109.25 874.20) scale(0.893 1)" class="num">-0.02</text>
<text transform="translate(145.76 874.20) scale(0.893 1)" class="num">-0.17</text>
<text transform="translate(182.27 874.20) scale(0.893 1)" class="num">0.12</text>
<text transform="translate(218.78 874.20) scale(0.893 1)" class="num">-0.31</text>
<text transform="translate(255.29 874.20) scale(0.893 1)" class="num">0.15</text>
<text transform="translate(291.80 874.20) scale(0.893 1)" class="num">-0.31</text>
<text transform="translate(328.31 874.20) scale(0.893 1)" class="num">-0.22</text>
<text transform="translate(364.82 874.20) scale(0.893 1)" class="num">1.00</text>
<text transform="translate(109.25 911.10) scale(0.893 1)" class="num">-0.43</text>
<text transform="translate(145.76 911.10) scale(0.893 1)" class="num">0.38</text>
<text transform="translate(182.27 911.10) scale(0.893 1)" class="num">-0.19</text>
<text transform="translate(218.78 911.10) scale(0.893 1)" class="num">-0.27</text>
<text transform="translate(255.29 911.10) scale(0.893 1)" class="num">-0.58</text>
<text transform="translate(291.80 911.10) scale(0.893 1)" class="num">0.52</text>
<text transform="translate(328.31 911.10) scale(0.893 1)" class="num">-0.34</text>
<text transform="translate(364.82 911.10) scale(0.893 1)" class="num">-0.16</text>
<text transform="translate(401.33 911.10) scale(0.893 1)" class="num">1.00</text>
<text transform="translate(109.25 948.00) scale(0.893 1)" class="num">0.00</text>
<text transform="translate(145.76 948.00) scale(0.893 1)" class="num">0.04</text>
<text transform="translate(182.27 948.00) scale(0.893 1)" class="num">0.11</text>
<text transform="translate(218.78 948.00) scale(0.893 1)" class="num">-0.04</text>
<text transform="translate(255.29 948.00) scale(0.893 1)" class="num">0.02</text>
<text transform="translate(291.80 948.00) scale(0.893 1)" class="num">0.11</text>
<text transform="translate(328.31 948.00) scale(0.893 1)" class="num">-0.15</text>
<text transform="translate(364.82 948.00) scale(0.893 1)" class="num">-0.08</text>
<text transform="translate(401.33 948.00) scale(0.893 1)" class="num">0.03</text>
<text transform="translate(437.84 948.00) scale(0.893 1)" class="num">1.00</text>
<text transform="translate(109.25 984.90) scale(0.893 1)" class="num">-0.06</text>
<text transform="translate(145.76 984.90) scale(0.893 1)" class="num">0.17</text>
<text transform="translate(182.27 984.90) scale(0.893 1)" class="num">-0.03</text>
<text transform="translate(218.78 984.90) scale(0.893 1)" class="num">0.37</text>
<text transform="translate(255.29 984.90) scale(0.893 1)" class="num">-0.32</text>
<text transform="translate(291.80 984.90) scale(0.893 1)" class="num">0.27</text>
<text transform="translate(328.31 984.90) scale(0.893 1)" class="num">-0.28</text>
<text transform="translate(364.82 984.90) scale(0.893 1)" class="num">-0.47</text>
<text transform="translate(401.33 984.90) scale(0.893 1)" class="num">0.23</text>
<text transform="translate(437.84 984.90) scale(0.893 1)" class="num">0.12</text>
<text transform="translate(474.35 984.90) scale(0.893 1)" class="num">1.00</text>
<text transform="translate(109.25 1021.80) scale(0.893 1)" class="num">0.08</text>
<text transform="translate(145.76 1021.80) scale(0.893 1)" class="num">-0.34</text>
<text transform="translate(182.27 1021.80) scale(0.893 1)" class="num">0.03</text>
<text transform="translate(218.78 1021.80) scale(0.893 1)" class="num">0.44</text>
<text transform="translate(255.29 1021.80) scale(0.893 1)" class="num">0.53</text>
<text transform="translate(291.80 1021.80) scale(0.893 1)" class="num">-0.41</text>
<text transform="translate(328.31 1021.80) scale(0.893 1)" class="num">0.35</text>
<text transform="translate(364.82 1021.80) scale(0.893 1)" class="num">0.11</text>
<text transform="translate(401.33 1021.80) scale(0.893 1)" class="num">-0.32</text>
<text transform="translate(437.84 1021.80) scale(0.893 1)" class="num">-0.15</text>
<text transform="translate(474.35 1021.80) scale(0.893 1)" class="num">-0.14</text>
<text transform="translate(510.86 1021.80) scale(0.893 1)" class="num">1.00</text>
<text transform="translate(109.25 1058.70) scale(0.893 1)" class="num">0.07</text>
<text transform="translate(145.76 1058.70) scale(0.893 1)" class="num">-0.19</text>
<text transform="translate(182.27 1058.70) scale(0.893 1)" class="num">-0.09</text>
<text transform="translate(218.78 1058.70) scale(0.893 1)" class="num">0.01</text>
<text transform="translate(255.29 1058.70) scale(0.893 1)" class="num">0.11</text>
<text transform="translate(291.80 1058.70) scale(0.893 1)" class="num">-0.25</text>
<text transform="translate(328.31 1058.70) scale(0.893 1)" class="num">0.30</text>
<text transform="translate(364.82 1058.70) scale(0.893 1)" class="num">0.05</text>
<text transform="translate(401.33 1058.70) scale(0.893 1)" class="num">-0.12</text>
<text transform="translate(437.84 1058.70) scale(0.893 1)" class="num">-0.17</text>
<text transform="translate(474.35 1058.70) scale(0.893 1)" class="num">-0.21</text>
<text transform="translate(510.86 1058.70) scale(0.893 1)" class="num">0.00</text>
<text transform="translate(547.38 1058.70) scale(0.893 1)" class="num">1.00</text>
<text transform="translate(109.25 1095.60) scale(0.893 1)" class="num">-0.08</text>
<text transform="translate(145.76 1095.60) scale(0.893 1)" class="num">0.39</text>
<text transform="translate(182.27 1095.60) scale(0.893 1)" class="num">-0.10</text>
<text transform="translate(218.78 1095.60) scale(0.893 1)" class="num">0.03</text>
<text transform="translate(255.29 1095.60) scale(0.893 1)" class="num">-0.27</text>
<text transform="translate(291.80 1095.60) scale(0.893 1)" class="num">0.48</text>
<text transform="translate(328.31 1095.60) scale(0.893 1)" class="num">-0.36</text>
<text transform="translate(364.82 1095.60) scale(0.893 1)" class="num">-0.22</text>
<text transform="translate(401.33 1095.60) scale(0.893 1)" class="num">0.30</text>
<text transform="translate(437.84 1095.60) scale(0.893 1)" class="num">0.29</text>
<text transform="translate(474.35 1095.60) scale(0.893 1)" class="num">0.31</text>
<text transform="translate(510.86 1095.60) scale(0.893 1)" class="num">-0.15</text>
<text transform="translate(547.38 1095.60) scale(0.893 1)" class="num">-0.55</text>
<text transform="translate(583.88 1095.60) scale(0.893 1)" class="num">1.00</text>
<rect x="91.00" y="593.55" width="511.14" height="516.60" fill="none" stroke="#000" stroke-width="3.6"/>
<text transform="translate(82.00 616.40) scale(0.964 1)" class="lab" text-anchor="end">OPC</text>
<text transform="translate(82.00 653.30) scale(0.964 1)" class="lab" text-anchor="end">FA</text>
<text transform="translate(82.00 690.20) scale(0.964 1)" class="lab" text-anchor="end">BFS</text>
<text transform="translate(82.00 727.10) scale(0.964 1)" class="lab" text-anchor="end">SF</text>
<text transform="translate(82.00 764.00) scale(0.964 1)" class="lab" text-anchor="end">SP</text>
<text transform="translate(82.00 800.90) scale(0.964 1)" class="lab" text-anchor="end">WC</text>
<text transform="translate(82.00 837.80) scale(0.964 1)" class="lab" text-anchor="end">Fine agg</text>
<text transform="translate(82.00 874.70) scale(0.964 1)" class="lab" text-anchor="end">Coarse agg</text>
<text transform="translate(82.00 911.60) scale(0.964 1)" class="lab" text-anchor="end">W/B</text>
<text transform="translate(82.00 948.50) scale(0.964 1)" class="lab" text-anchor="end">t</text>
<text transform="translate(82.00 985.40) scale(0.964 1)" class="lab" text-anchor="end">T</text>
<text transform="translate(82.00 1022.30) scale(0.964 1)" class="lab" text-anchor="end">Cl content</text>
<text transform="translate(82.00 1059.20) scale(0.964 1)" class="lab" text-anchor="end">Exposure type</text>
<text transform="translate(82.00 1096.10) scale(0.964 1)" class="lab" text-anchor="end">Cs</text>
<text transform="translate(109.66 585.88) scale(0.964 1)" class="lab" text-anchor="middle">OPC</text>
<text transform="translate(146.43 623.80) scale(0.964 1)" class="lab" text-anchor="middle">FA</text>
<text transform="translate(183.21 659.41) scale(0.964 1)" class="lab" text-anchor="middle">BFS</text>
<text transform="translate(219.14 696.12) scale(0.964 1)" class="lab" text-anchor="middle">SF</text>
<text transform="translate(255.35 733.25) scale(0.964 1)" class="lab" text-anchor="middle">SP</text>
<text transform="translate(292.05 770.15) scale(0.964 1)" class="lab" text-anchor="middle">WC</text>
<text transform="translate(313.93 805.95) scale(0.964 1)" class="lab">Fine agg</text>
<text transform="translate(349.83 843.17) scale(0.964 1)" class="lab">Coarse agg</text>
<text transform="translate(402.00 881.30) scale(0.964 1)" class="lab" text-anchor="middle">W/B</text>
<text transform="translate(438.48 918.41) scale(0.964 1)" class="lab" text-anchor="middle">t</text>
<text transform="translate(475.10 954.32) scale(0.964 1)" class="lab" text-anchor="middle">T</text>
<text transform="translate(516.10 994.88) rotate(-90) scale(0.964 1)" class="lab">Cl content</text>
<text transform="translate(553.20 1029.77) rotate(-90) scale(0.964 1)" class="lab">Exposure type</text>
<text transform="translate(584.59 1065.37) scale(0.964 1)" class="lab" text-anchor="middle">Cs</text>
<rect x="619.00" y="591.60" width="28.60" height="516.30" fill="url(#gs)" stroke="#151515" stroke-width="1.35"/>
<line x1="647.60" y1="591.60" x2="655.10" y2="591.60" stroke="#151515" stroke-width="1.3"/>
<text x="659.40" y="596.00" class="cbl">1.0</text>
<line x1="647.60" y1="643.23" x2="655.10" y2="643.23" stroke="#151515" stroke-width="1.3"/>
<text x="659.40" y="647.63" class="cbl">0.80</text>
<line x1="647.60" y1="694.86" x2="655.10" y2="694.86" stroke="#151515" stroke-width="1.3"/>
<text x="659.40" y="699.26" class="cbl">0.60</text>
<line x1="647.60" y1="746.49" x2="655.10" y2="746.49" stroke="#151515" stroke-width="1.3"/>
<text x="659.40" y="750.89" class="cbl">0.40</text>
<line x1="647.60" y1="798.12" x2="655.10" y2="798.12" stroke="#151515" stroke-width="1.3"/>
<text x="659.40" y="802.52" class="cbl">0.20</text>
<line x1="647.60" y1="849.75" x2="655.10" y2="849.75" stroke="#151515" stroke-width="1.3"/>
<text x="659.40" y="854.15" class="cbl">0.0</text>
<line x1="647.60" y1="901.38" x2="655.10" y2="901.38" stroke="#151515" stroke-width="1.3"/>
<text x="659.40" y="905.78" class="cbl">-0.20</text>
<line x1="647.60" y1="953.01" x2="655.10" y2="953.01" stroke="#151515" stroke-width="1.3"/>
<text x="659.40" y="957.41" class="cbl">-0.40</text>
<line x1="647.60" y1="1004.64" x2="655.10" y2="1004.64" stroke="#151515" stroke-width="1.3"/>
<text x="659.40" y="1009.04" class="cbl">-0.60</text>
<line x1="647.60" y1="1056.27" x2="655.10" y2="1056.27" stroke="#151515" stroke-width="1.3"/>
<text x="659.40" y="1060.67" class="cbl">-0.80</text>
<line x1="647.60" y1="1107.90" x2="655.10" y2="1107.90" stroke="#151515" stroke-width="1.3"/>
<text x="659.40" y="1112.30" class="cbl">-1.0</text>
<text transform="translate(342.25 1142) scale(0.992 1)" class="title" text-anchor="middle">Spearman correlation heatmap</text>
</svg>
</body></html>
